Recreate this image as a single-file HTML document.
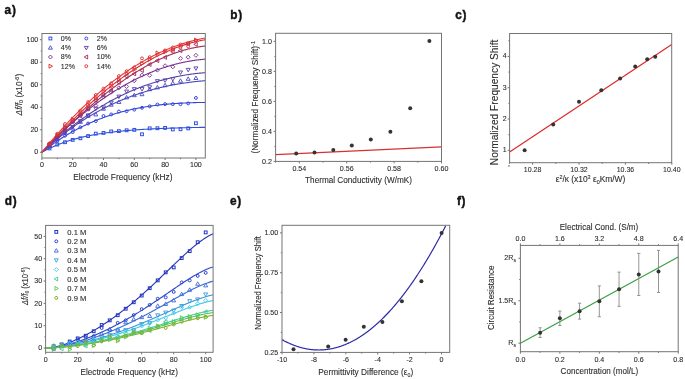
<!DOCTYPE html>
<html><head><meta charset="utf-8"><style>
html,body{margin:0;padding:0;background:#fff;}
svg{display:block;font-family:"Liberation Sans", sans-serif;filter:blur(0.3px);}
text{stroke:#2a2a2a;stroke-width:0.1px;paint-order:stroke;}
</style></head><body>
<svg width="685" height="379" viewBox="0 0 685 379">
<rect width="685" height="379" fill="#fff"/>
<polyline points="41.90,152.30 42.67,151.87 43.44,151.44 44.21,151.03 44.98,150.62 45.75,150.21 46.52,149.82 47.29,149.43 48.06,149.04 48.83,148.67 49.60,148.30 50.37,147.93 51.14,147.58 51.91,147.22 52.68,146.88 53.45,146.54 54.22,146.20 54.99,145.87 55.76,145.55 56.53,145.23 57.30,144.92 58.07,144.61 58.84,144.31 59.61,144.01 60.38,143.72 61.15,143.43 61.92,143.15 62.69,142.87 63.46,142.60 64.23,142.33 65.00,142.07 65.77,141.81 66.54,141.55 67.31,141.30 68.08,141.06 68.85,140.81 69.62,140.57 70.39,140.34 71.16,140.11 71.93,139.88 72.70,139.66 73.47,139.44 74.24,139.23 75.01,139.01 75.78,138.81 76.55,138.60 77.32,138.40 78.09,138.20 78.86,138.01 79.63,137.82 80.40,137.63 81.17,137.44 81.94,137.26 82.71,137.08 83.48,136.91 84.25,136.73 85.02,136.56 85.79,136.40 86.56,136.23 87.33,136.07 88.10,135.91 88.87,135.76 89.64,135.60 90.41,135.45 91.18,135.30 91.95,135.16 92.72,135.02 93.49,134.87 94.26,134.74 95.03,134.60 95.80,134.47 96.57,134.33 97.34,134.20 98.11,134.08 98.88,133.95 99.65,133.83 100.42,133.71 101.19,133.59 101.96,133.47 102.73,133.36 103.50,133.24 104.27,133.13 105.04,133.02 105.81,132.92 106.58,132.81 107.35,132.71 108.12,132.60 108.89,132.50 109.66,132.40 110.43,132.31 111.20,132.21 111.97,132.12 112.74,132.03 113.51,131.93 114.28,131.85 115.05,131.76 115.82,131.67 116.59,131.59 117.36,131.50 118.13,131.42 118.90,131.34 119.67,131.26 120.44,131.18 121.21,131.11 121.98,131.03 122.75,130.96 123.52,130.89 124.29,130.81 125.06,130.74 125.83,130.67 126.60,130.61 127.37,130.54 128.14,130.47 128.91,130.41 129.68,130.35 130.45,130.28 131.22,130.22 131.99,130.16 132.76,130.10 133.53,130.04 134.30,129.99 135.07,129.93 135.84,129.87 136.61,129.82 137.38,129.77 138.15,129.71 138.92,129.66 139.69,129.61 140.46,129.56 141.23,129.51 142.00,129.46 142.77,129.41 143.54,129.37 144.31,129.32 145.08,129.28 145.85,129.23 146.62,129.19 147.39,129.15 148.16,129.10 148.93,129.06 149.70,129.02 150.47,128.98 151.24,128.94 152.01,128.90 152.78,128.86 153.55,128.83 154.32,128.79 155.09,128.75 155.86,128.72 156.63,128.68 157.40,128.65 158.17,128.61 158.94,128.58 159.71,128.55 160.48,128.51 161.25,128.48 162.02,128.45 162.79,128.42 163.56,128.39 164.33,128.36 165.10,128.33 165.87,128.30 166.64,128.28 167.41,128.25 168.18,128.22 168.95,128.19 169.72,128.17 170.49,128.14 171.26,128.12 172.03,128.09 172.80,128.07 173.57,128.04 174.34,128.02 175.11,128.00 175.88,127.97 176.65,127.95 177.42,127.93 178.19,127.91 178.96,127.88 179.73,127.86 180.50,127.84 181.27,127.82 182.04,127.80 182.81,127.78 183.58,127.76 184.35,127.74 185.12,127.72 185.89,127.71 186.66,127.69 187.43,127.67 188.20,127.65 188.97,127.64 189.74,127.62 190.51,127.60 191.28,127.59 192.05,127.57 192.82,127.55 193.59,127.54 194.36,127.52 195.13,127.51 195.90,127.49 196.67,127.48 197.44,127.46 198.21,127.45 198.98,127.44 199.75,127.42 200.52,127.41 201.29,127.40 202.06,127.38 202.83,127.37 203.60,127.36 204.37,127.35 205.14,127.33" fill="none" stroke="#3050e0" stroke-width="1.1" stroke-linejoin="round"/>
<polyline points="41.90,152.30 42.67,151.69 43.44,151.09 44.21,150.49 44.98,149.89 45.75,149.31 46.52,148.72 47.29,148.14 48.06,147.57 48.83,147.00 49.60,146.43 50.37,145.87 51.14,145.32 51.91,144.77 52.68,144.22 53.45,143.68 54.22,143.14 54.99,142.61 55.76,142.08 56.53,141.56 57.30,141.04 58.07,140.53 58.84,140.02 59.61,139.51 60.38,139.01 61.15,138.52 61.92,138.03 62.69,137.54 63.46,137.06 64.23,136.58 65.00,136.11 65.77,135.64 66.54,135.17 67.31,134.71 68.08,134.26 68.85,133.80 69.62,133.36 70.39,132.91 71.16,132.47 71.93,132.04 72.70,131.61 73.47,131.18 74.24,130.76 75.01,130.34 75.78,129.93 76.55,129.52 77.32,129.11 78.09,128.71 78.86,128.31 79.63,127.92 80.40,127.53 81.17,127.14 81.94,126.76 82.71,126.38 83.48,126.01 84.25,125.64 85.02,125.27 85.79,124.91 86.56,124.55 87.33,124.19 88.10,123.84 88.87,123.49 89.64,123.15 90.41,122.81 91.18,122.47 91.95,122.14 92.72,121.81 93.49,121.49 94.26,121.16 95.03,120.85 95.80,120.53 96.57,120.22 97.34,119.91 98.11,119.61 98.88,119.31 99.65,119.01 100.42,118.72 101.19,118.43 101.96,118.14 102.73,117.86 103.50,117.58 104.27,117.30 105.04,117.03 105.81,116.76 106.58,116.49 107.35,116.23 108.12,115.97 108.89,115.71 109.66,115.46 110.43,115.21 111.20,114.96 111.97,114.72 112.74,114.48 113.51,114.24 114.28,114.00 115.05,113.77 115.82,113.54 116.59,113.32 117.36,113.10 118.13,112.88 118.90,112.66 119.67,112.45 120.44,112.23 121.21,112.03 121.98,111.82 122.75,111.62 123.52,111.42 124.29,111.23 125.06,111.03 125.83,110.84 126.60,110.65 127.37,110.47 128.14,110.29 128.91,110.11 129.68,109.93 130.45,109.76 131.22,109.58 131.99,109.41 132.76,109.25 133.53,109.08 134.30,108.92 135.07,108.76 135.84,108.61 136.61,108.45 137.38,108.30 138.15,108.16 138.92,108.01 139.69,107.87 140.46,107.72 141.23,107.59 142.00,107.45 142.77,107.31 143.54,107.18 144.31,107.05 145.08,106.93 145.85,106.80 146.62,106.68 147.39,106.56 148.16,106.44 148.93,106.32 149.70,106.21 150.47,106.10 151.24,105.99 152.01,105.88 152.78,105.78 153.55,105.67 154.32,105.57 155.09,105.47 155.86,105.37 156.63,105.28 157.40,105.19 158.17,105.09 158.94,105.01 159.71,104.92 160.48,104.83 161.25,104.75 162.02,104.67 162.79,104.59 163.56,104.51 164.33,104.43 165.10,104.36 165.87,104.28 166.64,104.21 167.41,104.14 168.18,104.08 168.95,104.01 169.72,103.95 170.49,103.88 171.26,103.82 172.03,103.76 172.80,103.70 173.57,103.65 174.34,103.59 175.11,103.54 175.88,103.49 176.65,103.44 177.42,103.39 178.19,103.34 178.96,103.29 179.73,103.25 180.50,103.21 181.27,103.16 182.04,103.12 182.81,103.08 183.58,103.05 184.35,103.01 185.12,102.97 185.89,102.94 186.66,102.91 187.43,102.87 188.20,102.84 188.97,102.81 189.74,102.78 190.51,102.76 191.28,102.73 192.05,102.70 192.82,102.68 193.59,102.66 194.36,102.64 195.13,102.61 195.90,102.59 196.67,102.57 197.44,102.56 198.21,102.54 198.98,102.52 199.75,102.51 200.52,102.49 201.29,102.48 202.06,102.46 202.83,102.45 203.60,102.44 204.37,102.43 205.14,102.42" fill="none" stroke="#3344dd" stroke-width="1.1" stroke-linejoin="round"/>
<polyline points="41.90,152.30 42.67,151.59 43.44,150.88 44.21,150.18 44.98,149.49 45.75,148.80 46.52,148.11 47.29,147.42 48.06,146.75 48.83,146.07 49.60,145.40 50.37,144.74 51.14,144.07 51.91,143.42 52.68,142.76 53.45,142.12 54.22,141.47 54.99,140.83 55.76,140.20 56.53,139.56 57.30,138.94 58.07,138.31 58.84,137.69 59.61,137.08 60.38,136.47 61.15,135.86 61.92,135.26 62.69,134.66 63.46,134.07 64.23,133.48 65.00,132.89 65.77,132.31 66.54,131.73 67.31,131.16 68.08,130.59 68.85,130.02 69.62,129.46 70.39,128.90 71.16,128.35 71.93,127.80 72.70,127.26 73.47,126.71 74.24,126.18 75.01,125.64 75.78,125.11 76.55,124.59 77.32,124.06 78.09,123.55 78.86,123.03 79.63,122.52 80.40,122.01 81.17,121.51 81.94,121.01 82.71,120.51 83.48,120.02 84.25,119.53 85.02,119.05 85.79,118.57 86.56,118.09 87.33,117.62 88.10,117.15 88.87,116.68 89.64,116.22 90.41,115.76 91.18,115.31 91.95,114.86 92.72,114.41 93.49,113.97 94.26,113.53 95.03,113.09 95.80,112.66 96.57,112.23 97.34,111.80 98.11,111.38 98.88,110.96 99.65,110.54 100.42,110.13 101.19,109.72 101.96,109.31 102.73,108.91 103.50,108.51 104.27,108.12 105.04,107.73 105.81,107.34 106.58,106.95 107.35,106.57 108.12,106.19 108.89,105.82 109.66,105.45 110.43,105.08 111.20,104.71 111.97,104.35 112.74,103.99 113.51,103.64 114.28,103.28 115.05,102.94 115.82,102.59 116.59,102.25 117.36,101.91 118.13,101.57 118.90,101.24 119.67,100.91 120.44,100.58 121.21,100.26 121.98,99.94 122.75,99.62 123.52,99.31 124.29,98.99 125.06,98.69 125.83,98.38 126.60,98.08 127.37,97.78 128.14,97.48 128.91,97.19 129.68,96.90 130.45,96.61 131.22,96.33 131.99,96.05 132.76,95.77 133.53,95.49 134.30,95.22 135.07,94.95 135.84,94.68 136.61,94.42 137.38,94.16 138.15,93.90 138.92,93.64 139.69,93.39 140.46,93.14 141.23,92.89 142.00,92.65 142.77,92.41 143.54,92.17 144.31,91.93 145.08,91.70 145.85,91.46 146.62,91.24 147.39,91.01 148.16,90.79 148.93,90.57 149.70,90.35 150.47,90.13 151.24,89.92 152.01,89.71 152.78,89.50 153.55,89.30 154.32,89.10 155.09,88.90 155.86,88.70 156.63,88.50 157.40,88.31 158.17,88.12 158.94,87.93 159.71,87.75 160.48,87.57 161.25,87.38 162.02,87.21 162.79,87.03 163.56,86.86 164.33,86.69 165.10,86.52 165.87,86.35 166.64,86.19 167.41,86.03 168.18,85.87 168.95,85.71 169.72,85.56 170.49,85.41 171.26,85.26 172.03,85.11 172.80,84.96 173.57,84.82 174.34,84.68 175.11,84.54 175.88,84.40 176.65,84.27 177.42,84.13 178.19,84.00 178.96,83.88 179.73,83.75 180.50,83.63 181.27,83.50 182.04,83.38 182.81,83.27 183.58,83.15 184.35,83.04 185.12,82.92 185.89,82.81 186.66,82.71 187.43,82.60 188.20,82.50 188.97,82.39 189.74,82.29 190.51,82.20 191.28,82.10 192.05,82.00 192.82,81.91 193.59,81.82 194.36,81.73 195.13,81.64 195.90,81.56 196.67,81.48 197.44,81.39 198.21,81.31 198.98,81.24 199.75,81.16 200.52,81.09 201.29,81.01 202.06,80.94 202.83,80.87 203.60,80.80 204.37,80.74 205.14,80.67" fill="none" stroke="#4848c0" stroke-width="1.1" stroke-linejoin="round"/>
<polyline points="41.90,152.30 42.67,151.57 43.44,150.84 44.21,150.11 44.98,149.39 45.75,148.67 46.52,147.95 47.29,147.24 48.06,146.53 48.83,145.83 49.60,145.13 50.37,144.43 51.14,143.74 51.91,143.05 52.68,142.37 53.45,141.68 54.22,141.01 54.99,140.33 55.76,139.66 56.53,138.99 57.30,138.33 58.07,137.67 58.84,137.02 59.61,136.36 60.38,135.72 61.15,135.07 61.92,134.43 62.69,133.79 63.46,133.16 64.23,132.53 65.00,131.90 65.77,131.28 66.54,130.66 67.31,130.05 68.08,129.43 68.85,128.83 69.62,128.22 70.39,127.62 71.16,127.02 71.93,126.43 72.70,125.84 73.47,125.25 74.24,124.67 75.01,124.09 75.78,123.51 76.55,122.94 77.32,122.37 78.09,121.81 78.86,121.24 79.63,120.69 80.40,120.13 81.17,119.58 81.94,119.03 82.71,118.49 83.48,117.95 84.25,117.41 85.02,116.88 85.79,116.35 86.56,115.82 87.33,115.30 88.10,114.78 88.87,114.26 89.64,113.75 90.41,113.24 91.18,112.73 91.95,112.23 92.72,111.73 93.49,111.23 94.26,110.74 95.03,110.25 95.80,109.77 96.57,109.28 97.34,108.80 98.11,108.33 98.88,107.86 99.65,107.39 100.42,106.92 101.19,106.46 101.96,106.00 102.73,105.55 103.50,105.10 104.27,104.65 105.04,104.20 105.81,103.76 106.58,103.32 107.35,102.89 108.12,102.46 108.89,102.03 109.66,101.60 110.43,101.18 111.20,100.76 111.97,100.35 112.74,99.93 113.51,99.53 114.28,99.12 115.05,98.72 115.82,98.32 116.59,97.92 117.36,97.53 118.13,97.14 118.90,96.76 119.67,96.37 120.44,95.99 121.21,95.62 121.98,95.25 122.75,94.88 123.52,94.51 124.29,94.15 125.06,93.79 125.83,93.43 126.60,93.08 127.37,92.72 128.14,92.38 128.91,92.03 129.68,91.69 130.45,91.35 131.22,91.02 131.99,90.69 132.76,90.36 133.53,90.03 134.30,89.71 135.07,89.39 135.84,89.08 136.61,88.76 137.38,88.45 138.15,88.15 138.92,87.84 139.69,87.54 140.46,87.25 141.23,86.95 142.00,86.66 142.77,86.37 143.54,86.09 144.31,85.80 145.08,85.53 145.85,85.25 146.62,84.98 147.39,84.71 148.16,84.44 148.93,84.18 149.70,83.91 150.47,83.66 151.24,83.40 152.01,83.15 152.78,82.90 153.55,82.66 154.32,82.41 155.09,82.17 155.86,81.94 156.63,81.70 157.40,81.47 158.17,81.24 158.94,81.02 159.71,80.80 160.48,80.58 161.25,80.36 162.02,80.15 162.79,79.94 163.56,79.73 164.33,79.52 165.10,79.32 165.87,79.12 166.64,78.93 167.41,78.73 168.18,78.54 168.95,78.36 169.72,78.17 170.49,77.99 171.26,77.81 172.03,77.64 172.80,77.46 173.57,77.29 174.34,77.12 175.11,76.96 175.88,76.80 176.65,76.64 177.42,76.48 178.19,76.33 178.96,76.18 179.73,76.03 180.50,75.89 181.27,75.74 182.04,75.60 182.81,75.47 183.58,75.33 184.35,75.20 185.12,75.08 185.89,74.95 186.66,74.83 187.43,74.71 188.20,74.59 188.97,74.47 189.74,74.36 190.51,74.25 191.28,74.15 192.05,74.04 192.82,73.94 193.59,73.84 194.36,73.75 195.13,73.65 195.90,73.56 196.67,73.48 197.44,73.39 198.21,73.31 198.98,73.23 199.75,73.15 200.52,73.08 201.29,73.01 202.06,72.94 202.83,72.87 203.60,72.81 204.37,72.75 205.14,72.69" fill="none" stroke="#5840a8" stroke-width="1.1" stroke-linejoin="round"/>
<polyline points="41.90,152.30 42.67,151.49 43.44,150.68 44.21,149.87 44.98,149.07 45.75,148.27 46.52,147.47 47.29,146.68 48.06,145.89 48.83,145.11 49.60,144.33 50.37,143.55 51.14,142.77 51.91,142.00 52.68,141.24 53.45,140.47 54.22,139.71 54.99,138.96 55.76,138.20 56.53,137.45 57.30,136.71 58.07,135.96 58.84,135.22 59.61,134.49 60.38,133.76 61.15,133.03 61.92,132.30 62.69,131.58 63.46,130.86 64.23,130.15 65.00,129.44 65.77,128.73 66.54,128.03 67.31,127.33 68.08,126.63 68.85,125.94 69.62,125.25 70.39,124.56 71.16,123.88 71.93,123.20 72.70,122.53 73.47,121.85 74.24,121.19 75.01,120.52 75.78,119.86 76.55,119.20 77.32,118.55 78.09,117.90 78.86,117.25 79.63,116.61 80.40,115.97 81.17,115.33 81.94,114.70 82.71,114.07 83.48,113.44 84.25,112.82 85.02,112.20 85.79,111.58 86.56,110.97 87.33,110.36 88.10,109.76 88.87,109.16 89.64,108.56 90.41,107.97 91.18,107.37 91.95,106.79 92.72,106.20 93.49,105.62 94.26,105.05 95.03,104.48 95.80,103.91 96.57,103.34 97.34,102.78 98.11,102.22 98.88,101.66 99.65,101.11 100.42,100.56 101.19,100.02 101.96,99.48 102.73,98.94 103.50,98.41 104.27,97.88 105.04,97.35 105.81,96.83 106.58,96.31 107.35,95.79 108.12,95.28 108.89,94.77 109.66,94.26 110.43,93.76 111.20,93.26 111.97,92.77 112.74,92.28 113.51,91.79 114.28,91.31 115.05,90.83 115.82,90.35 116.59,89.87 117.36,89.40 118.13,88.94 118.90,88.47 119.67,88.02 120.44,87.56 121.21,87.11 121.98,86.66 122.75,86.21 123.52,85.77 124.29,85.33 125.06,84.90 125.83,84.47 126.60,84.04 127.37,83.62 128.14,83.20 128.91,82.78 129.68,82.37 130.45,81.96 131.22,81.55 131.99,81.15 132.76,80.75 133.53,80.35 134.30,79.96 135.07,79.57 135.84,79.19 136.61,78.81 137.38,78.43 138.15,78.06 138.92,77.69 139.69,77.32 140.46,76.96 141.23,76.60 142.00,76.24 142.77,75.89 143.54,75.54 144.31,75.19 145.08,74.85 145.85,74.51 146.62,74.18 147.39,73.85 148.16,73.52 148.93,73.19 149.70,72.87 150.47,72.56 151.24,72.24 152.01,71.93 152.78,71.63 153.55,71.32 154.32,71.02 155.09,70.73 155.86,70.44 156.63,70.15 157.40,69.86 158.17,69.58 158.94,69.30 159.71,69.03 160.48,68.76 161.25,68.49 162.02,68.23 162.79,67.97 163.56,67.71 164.33,67.46 165.10,67.21 165.87,66.96 166.64,66.72 167.41,66.48 168.18,66.24 168.95,66.01 169.72,65.78 170.49,65.56 171.26,65.34 172.03,65.12 172.80,64.91 173.57,64.70 174.34,64.49 175.11,64.29 175.88,64.09 176.65,63.89 177.42,63.70 178.19,63.51 178.96,63.33 179.73,63.15 180.50,62.97 181.27,62.79 182.04,62.62 182.81,62.45 183.58,62.29 184.35,62.13 185.12,61.97 185.89,61.82 186.66,61.67 187.43,61.53 188.20,61.38 188.97,61.24 189.74,61.11 190.51,60.98 191.28,60.85 192.05,60.72 192.82,60.60 193.59,60.49 194.36,60.37 195.13,60.26 195.90,60.16 196.67,60.05 197.44,59.95 198.21,59.86 198.98,59.77 199.75,59.68 200.52,59.59 201.29,59.51 202.06,59.43 202.83,59.36 203.60,59.29 204.37,59.22 205.14,59.16" fill="none" stroke="#783090" stroke-width="1.1" stroke-linejoin="round"/>
<polyline points="41.90,152.30 42.67,151.51 43.44,150.72 44.21,149.93 44.98,149.15 45.75,148.36 46.52,147.58 47.29,146.80 48.06,146.02 48.83,145.25 49.60,144.47 50.37,143.70 51.14,142.92 51.91,142.15 52.68,141.38 53.45,140.62 54.22,139.85 54.99,139.09 55.76,138.33 56.53,137.57 57.30,136.81 58.07,136.05 58.84,135.30 59.61,134.54 60.38,133.79 61.15,133.04 61.92,132.30 62.69,131.55 63.46,130.81 64.23,130.07 65.00,129.33 65.77,128.59 66.54,127.86 67.31,127.13 68.08,126.40 68.85,125.67 69.62,124.94 70.39,124.22 71.16,123.50 71.93,122.78 72.70,122.06 73.47,121.34 74.24,120.63 75.01,119.92 75.78,119.21 76.55,118.50 77.32,117.80 78.09,117.10 78.86,116.40 79.63,115.70 80.40,115.01 81.17,114.31 81.94,113.62 82.71,112.94 83.48,112.25 84.25,111.57 85.02,110.89 85.79,110.21 86.56,109.53 87.33,108.86 88.10,108.19 88.87,107.52 89.64,106.86 90.41,106.20 91.18,105.54 91.95,104.88 92.72,104.22 93.49,103.57 94.26,102.92 95.03,102.28 95.80,101.63 96.57,100.99 97.34,100.35 98.11,99.72 98.88,99.08 99.65,98.45 100.42,97.82 101.19,97.20 101.96,96.58 102.73,95.96 103.50,95.34 104.27,94.73 105.04,94.12 105.81,93.51 106.58,92.91 107.35,92.31 108.12,91.71 108.89,91.11 109.66,90.52 110.43,89.93 111.20,89.34 111.97,88.76 112.74,88.18 113.51,87.60 114.28,87.03 115.05,86.46 115.82,85.89 116.59,85.33 117.36,84.77 118.13,84.21 118.90,83.65 119.67,83.10 120.44,82.55 121.21,82.01 121.98,81.47 122.75,80.93 123.52,80.39 124.29,79.86 125.06,79.33 125.83,78.81 126.60,78.28 127.37,77.77 128.14,77.25 128.91,76.74 129.68,76.23 130.45,75.73 131.22,75.23 131.99,74.73 132.76,74.23 133.53,73.74 134.30,73.26 135.07,72.77 135.84,72.29 136.61,71.82 137.38,71.35 138.15,70.88 138.92,70.41 139.69,69.95 140.46,69.49 141.23,69.04 142.00,68.59 142.77,68.14 143.54,67.70 144.31,67.26 145.08,66.82 145.85,66.39 146.62,65.97 147.39,65.54 148.16,65.12 148.93,64.71 149.70,64.29 150.47,63.89 151.24,63.48 152.01,63.08 152.78,62.69 153.55,62.29 154.32,61.91 155.09,61.52 155.86,61.14 156.63,60.77 157.40,60.39 158.17,60.03 158.94,59.66 159.71,59.30 160.48,58.95 161.25,58.60 162.02,58.25 162.79,57.91 163.56,57.57 164.33,57.23 165.10,56.90 165.87,56.58 166.64,56.26 167.41,55.94 168.18,55.63 168.95,55.32 169.72,55.01 170.49,54.71 171.26,54.42 172.03,54.13 172.80,53.84 173.57,53.56 174.34,53.28 175.11,53.01 175.88,52.74 176.65,52.47 177.42,52.21 178.19,51.96 178.96,51.71 179.73,51.46 180.50,51.22 181.27,50.98 182.04,50.75 182.81,50.52 183.58,50.30 184.35,50.08 185.12,49.87 185.89,49.66 186.66,49.46 187.43,49.26 188.20,49.06 188.97,48.87 189.74,48.69 190.51,48.51 191.28,48.33 192.05,48.16 192.82,48.00 193.59,47.84 194.36,47.68 195.13,47.53 195.90,47.38 196.67,47.24 197.44,47.11 198.21,46.98 198.98,46.85 199.75,46.73 200.52,46.61 201.29,46.50 202.06,46.40 202.83,46.30 203.60,46.20 204.37,46.11 205.14,46.02" fill="none" stroke="#a02c58" stroke-width="1.1" stroke-linejoin="round"/>
<polyline points="41.90,152.30 42.67,151.45 43.44,150.59 44.21,149.74 44.98,148.89 45.75,148.05 46.52,147.21 47.29,146.37 48.06,145.53 48.83,144.69 49.60,143.86 50.37,143.03 51.14,142.20 51.91,141.37 52.68,140.55 53.45,139.73 54.22,138.91 54.99,138.10 55.76,137.28 56.53,136.47 57.30,135.66 58.07,134.86 58.84,134.05 59.61,133.25 60.38,132.46 61.15,131.66 61.92,130.87 62.69,130.08 63.46,129.29 64.23,128.50 65.00,127.72 65.77,126.94 66.54,126.16 67.31,125.39 68.08,124.62 68.85,123.85 69.62,123.08 70.39,122.32 71.16,121.56 71.93,120.80 72.70,120.05 73.47,119.29 74.24,118.54 75.01,117.80 75.78,117.05 76.55,116.31 77.32,115.57 78.09,114.84 78.86,114.10 79.63,113.37 80.40,112.64 81.17,111.92 81.94,111.20 82.71,110.48 83.48,109.76 84.25,109.05 85.02,108.34 85.79,107.63 86.56,106.93 87.33,106.23 88.10,105.53 88.87,104.83 89.64,104.14 90.41,103.45 91.18,102.77 91.95,102.08 92.72,101.40 93.49,100.72 94.26,100.05 95.03,99.38 95.80,98.71 96.57,98.05 97.34,97.38 98.11,96.72 98.88,96.07 99.65,95.42 100.42,94.77 101.19,94.12 101.96,93.48 102.73,92.83 103.50,92.20 104.27,91.56 105.04,90.93 105.81,90.30 106.58,89.68 107.35,89.06 108.12,88.44 108.89,87.83 109.66,87.21 110.43,86.61 111.20,86.00 111.97,85.40 112.74,84.80 113.51,84.20 114.28,83.61 115.05,83.02 115.82,82.44 116.59,81.86 117.36,81.28 118.13,80.70 118.90,80.13 119.67,79.56 120.44,79.00 121.21,78.43 121.98,77.88 122.75,77.32 123.52,76.77 124.29,76.22 125.06,75.68 125.83,75.13 126.60,74.60 127.37,74.06 128.14,73.53 128.91,73.00 129.68,72.48 130.45,71.96 131.22,71.44 131.99,70.93 132.76,70.42 133.53,69.91 134.30,69.41 135.07,68.91 135.84,68.42 136.61,67.92 137.38,67.43 138.15,66.95 138.92,66.47 139.69,65.99 140.46,65.52 141.23,65.05 142.00,64.58 142.77,64.12 143.54,63.66 144.31,63.20 145.08,62.75 145.85,62.30 146.62,61.86 147.39,61.42 148.16,60.98 148.93,60.55 149.70,60.12 150.47,59.69 151.24,59.27 152.01,58.85 152.78,58.44 153.55,58.03 154.32,57.62 155.09,57.22 155.86,56.82 156.63,56.42 157.40,56.03 158.17,55.65 158.94,55.26 159.71,54.88 160.48,54.51 161.25,54.14 162.02,53.77 162.79,53.40 163.56,53.04 164.33,52.69 165.10,52.34 165.87,51.99 166.64,51.64 167.41,51.30 168.18,50.97 168.95,50.64 169.72,50.31 170.49,49.98 171.26,49.67 172.03,49.35 172.80,49.04 173.57,48.73 174.34,48.43 175.11,48.13 175.88,47.83 176.65,47.54 177.42,47.25 178.19,46.97 178.96,46.69 179.73,46.42 180.50,46.15 181.27,45.88 182.04,45.62 182.81,45.36 183.58,45.11 184.35,44.86 185.12,44.61 185.89,44.37 186.66,44.14 187.43,43.90 188.20,43.67 188.97,43.45 189.74,43.23 190.51,43.02 191.28,42.81 192.05,42.60 192.82,42.40 193.59,42.20 194.36,42.01 195.13,41.82 195.90,41.63 196.67,41.45 197.44,41.28 198.21,41.10 198.98,40.94 199.75,40.77 200.52,40.62 201.29,40.46 202.06,40.31 202.83,40.17 203.60,40.03 204.37,39.89 205.14,39.76" fill="none" stroke="#d82c30" stroke-width="1.1" stroke-linejoin="round"/>
<polyline points="41.90,152.30 42.67,151.35 43.44,150.41 44.21,149.47 44.98,148.53 45.75,147.60 46.52,146.67 47.29,145.75 48.06,144.82 48.83,143.91 49.60,143.00 50.37,142.09 51.14,141.18 51.91,140.28 52.68,139.39 53.45,138.49 54.22,137.60 54.99,136.72 55.76,135.84 56.53,134.96 57.30,134.09 58.07,133.22 58.84,132.36 59.61,131.50 60.38,130.64 61.15,129.79 61.92,128.94 62.69,128.09 63.46,127.25 64.23,126.41 65.00,125.58 65.77,124.75 66.54,123.93 67.31,123.10 68.08,122.29 68.85,121.47 69.62,120.66 70.39,119.86 71.16,119.06 71.93,118.26 72.70,117.47 73.47,116.68 74.24,115.89 75.01,115.11 75.78,114.33 76.55,113.56 77.32,112.79 78.09,112.02 78.86,111.26 79.63,110.50 80.40,109.74 81.17,108.99 81.94,108.25 82.71,107.50 83.48,106.77 84.25,106.03 85.02,105.30 85.79,104.57 86.56,103.85 87.33,103.13 88.10,102.42 88.87,101.70 89.64,101.00 90.41,100.29 91.18,99.59 91.95,98.90 92.72,98.20 93.49,97.52 94.26,96.83 95.03,96.15 95.80,95.48 96.57,94.80 97.34,94.13 98.11,93.47 98.88,92.81 99.65,92.15 100.42,91.50 101.19,90.85 101.96,90.20 102.73,89.56 103.50,88.92 104.27,88.29 105.04,87.66 105.81,87.03 106.58,86.41 107.35,85.79 108.12,85.18 108.89,84.57 109.66,83.96 110.43,83.36 111.20,82.76 111.97,82.16 112.74,81.57 113.51,80.99 114.28,80.40 115.05,79.82 115.82,79.25 116.59,78.67 117.36,78.11 118.13,77.54 118.90,76.98 119.67,76.42 120.44,75.87 121.21,75.32 121.98,74.78 122.75,74.23 123.52,73.70 124.29,73.16 125.06,72.63 125.83,72.11 126.60,71.58 127.37,71.06 128.14,70.55 128.91,70.04 129.68,69.53 130.45,69.03 131.22,68.53 131.99,68.03 132.76,67.54 133.53,67.05 134.30,66.57 135.07,66.09 135.84,65.61 136.61,65.14 137.38,64.67 138.15,64.20 138.92,63.74 139.69,63.28 140.46,62.83 141.23,62.38 142.00,61.93 142.77,61.49 143.54,61.05 144.31,60.62 145.08,60.18 145.85,59.76 146.62,59.33 147.39,58.91 148.16,58.50 148.93,58.08 149.70,57.68 150.47,57.27 151.24,56.87 152.01,56.47 152.78,56.08 153.55,55.69 154.32,55.30 155.09,54.92 155.86,54.54 156.63,54.17 157.40,53.79 158.17,53.43 158.94,53.06 159.71,52.70 160.48,52.35 161.25,51.99 162.02,51.65 162.79,51.30 163.56,50.96 164.33,50.62 165.10,50.29 165.87,49.96 166.64,49.63 167.41,49.31 168.18,48.99 168.95,48.67 169.72,48.36 170.49,48.06 171.26,47.75 172.03,47.45 172.80,47.15 173.57,46.86 174.34,46.57 175.11,46.29 175.88,46.01 176.65,45.73 177.42,45.45 178.19,45.18 178.96,44.92 179.73,44.65 180.50,44.39 181.27,44.14 182.04,43.88 182.81,43.64 183.58,43.39 184.35,43.15 185.12,42.91 185.89,42.68 186.66,42.45 187.43,42.22 188.20,42.00 188.97,41.78 189.74,41.57 190.51,41.35 191.28,41.15 192.05,40.94 192.82,40.74 193.59,40.55 194.36,40.35 195.13,40.16 195.90,39.98 196.67,39.79 197.44,39.62 198.21,39.44 198.98,39.27 199.75,39.10 200.52,38.94 201.29,38.78 202.06,38.62 202.83,38.47 203.60,38.32 204.37,38.17 205.14,38.03" fill="none" stroke="#e83838" stroke-width="1.1" stroke-linejoin="round"/>
<rect x="48.20" y="147.05" width="2.80" height="2.80" fill="none" stroke="#3050e0" stroke-width="1.0"/>
<rect x="55.90" y="143.19" width="2.80" height="2.80" fill="none" stroke="#3050e0" stroke-width="1.0"/>
<rect x="63.60" y="140.82" width="2.80" height="2.80" fill="none" stroke="#3050e0" stroke-width="1.0"/>
<rect x="71.30" y="138.48" width="2.80" height="2.80" fill="none" stroke="#3050e0" stroke-width="1.0"/>
<rect x="79.00" y="136.89" width="2.80" height="2.80" fill="none" stroke="#3050e0" stroke-width="1.0"/>
<rect x="86.70" y="134.67" width="2.80" height="2.80" fill="none" stroke="#3050e0" stroke-width="1.0"/>
<rect x="94.40" y="132.24" width="2.80" height="2.80" fill="none" stroke="#3050e0" stroke-width="1.0"/>
<rect x="102.10" y="131.52" width="2.80" height="2.80" fill="none" stroke="#3050e0" stroke-width="1.0"/>
<rect x="109.80" y="130.02" width="2.80" height="2.80" fill="none" stroke="#3050e0" stroke-width="1.0"/>
<rect x="117.50" y="129.75" width="2.80" height="2.80" fill="none" stroke="#3050e0" stroke-width="1.0"/>
<rect x="125.20" y="128.90" width="2.80" height="2.80" fill="none" stroke="#3050e0" stroke-width="1.0"/>
<rect x="132.90" y="128.44" width="2.80" height="2.80" fill="none" stroke="#3050e0" stroke-width="1.0"/>
<rect x="140.60" y="132.88" width="2.80" height="2.80" fill="none" stroke="#3050e0" stroke-width="1.0"/>
<rect x="148.30" y="126.94" width="2.80" height="2.80" fill="none" stroke="#3050e0" stroke-width="1.0"/>
<rect x="156.00" y="126.84" width="2.80" height="2.80" fill="none" stroke="#3050e0" stroke-width="1.0"/>
<rect x="163.70" y="126.53" width="2.80" height="2.80" fill="none" stroke="#3050e0" stroke-width="1.0"/>
<rect x="171.40" y="128.03" width="2.80" height="2.80" fill="none" stroke="#3050e0" stroke-width="1.0"/>
<rect x="179.10" y="127.85" width="2.80" height="2.80" fill="none" stroke="#3050e0" stroke-width="1.0"/>
<rect x="186.80" y="126.97" width="2.80" height="2.80" fill="none" stroke="#3050e0" stroke-width="1.0"/>
<rect x="194.50" y="121.85" width="2.80" height="2.80" fill="none" stroke="#3050e0" stroke-width="1.0"/>
<circle cx="49.60" cy="146.24" r="1.45" fill="none" stroke="#3344dd" stroke-width="1.0"/>
<circle cx="57.30" cy="141.07" r="1.45" fill="none" stroke="#3344dd" stroke-width="1.0"/>
<circle cx="65.00" cy="135.73" r="1.45" fill="none" stroke="#3344dd" stroke-width="1.0"/>
<circle cx="72.70" cy="132.10" r="1.45" fill="none" stroke="#3344dd" stroke-width="1.0"/>
<circle cx="80.40" cy="127.28" r="1.45" fill="none" stroke="#3344dd" stroke-width="1.0"/>
<circle cx="88.10" cy="123.51" r="1.45" fill="none" stroke="#3344dd" stroke-width="1.0"/>
<circle cx="95.80" cy="121.11" r="1.45" fill="none" stroke="#3344dd" stroke-width="1.0"/>
<circle cx="103.50" cy="116.01" r="1.45" fill="none" stroke="#3344dd" stroke-width="1.0"/>
<circle cx="111.20" cy="114.44" r="1.45" fill="none" stroke="#3344dd" stroke-width="1.0"/>
<circle cx="118.90" cy="111.51" r="1.45" fill="none" stroke="#3344dd" stroke-width="1.0"/>
<circle cx="126.60" cy="111.26" r="1.45" fill="none" stroke="#3344dd" stroke-width="1.0"/>
<circle cx="134.30" cy="109.66" r="1.45" fill="none" stroke="#3344dd" stroke-width="1.0"/>
<circle cx="142.00" cy="107.80" r="1.45" fill="none" stroke="#3344dd" stroke-width="1.0"/>
<circle cx="149.70" cy="106.32" r="1.45" fill="none" stroke="#3344dd" stroke-width="1.0"/>
<circle cx="157.40" cy="104.53" r="1.45" fill="none" stroke="#3344dd" stroke-width="1.0"/>
<circle cx="165.10" cy="104.10" r="1.45" fill="none" stroke="#3344dd" stroke-width="1.0"/>
<circle cx="172.80" cy="104.17" r="1.45" fill="none" stroke="#3344dd" stroke-width="1.0"/>
<circle cx="180.50" cy="104.21" r="1.45" fill="none" stroke="#3344dd" stroke-width="1.0"/>
<circle cx="188.20" cy="103.39" r="1.45" fill="none" stroke="#3344dd" stroke-width="1.0"/>
<circle cx="195.90" cy="97.92" r="1.45" fill="none" stroke="#3344dd" stroke-width="1.0"/>
<polygon points="49.60,143.81 51.59,147.28 47.61,147.28" fill="none" stroke="#4848c0" stroke-width="0.9" stroke-linejoin="miter"/>
<polygon points="57.30,136.67 59.29,140.13 55.30,140.13" fill="none" stroke="#4848c0" stroke-width="0.9" stroke-linejoin="miter"/>
<polygon points="65.00,130.47 67.00,133.93 63.01,133.93" fill="none" stroke="#4848c0" stroke-width="0.9" stroke-linejoin="miter"/>
<polygon points="72.70,126.37 74.70,129.83 70.70,129.83" fill="none" stroke="#4848c0" stroke-width="0.9" stroke-linejoin="miter"/>
<polygon points="80.40,119.87 82.40,123.34 78.41,123.34" fill="none" stroke="#4848c0" stroke-width="0.9" stroke-linejoin="miter"/>
<polygon points="88.10,113.86 90.09,117.32 86.10,117.32" fill="none" stroke="#4848c0" stroke-width="0.9" stroke-linejoin="miter"/>
<polygon points="95.80,112.49 97.80,115.95 93.80,115.95" fill="none" stroke="#4848c0" stroke-width="0.9" stroke-linejoin="miter"/>
<polygon points="103.50,106.74 105.50,110.20 101.50,110.20" fill="none" stroke="#4848c0" stroke-width="0.9" stroke-linejoin="miter"/>
<polygon points="111.20,102.72 113.19,106.19 109.20,106.19" fill="none" stroke="#4848c0" stroke-width="0.9" stroke-linejoin="miter"/>
<polygon points="118.90,100.02 120.90,103.48 116.91,103.48" fill="none" stroke="#4848c0" stroke-width="0.9" stroke-linejoin="miter"/>
<polygon points="126.60,95.43 128.59,98.89 124.60,98.89" fill="none" stroke="#4848c0" stroke-width="0.9" stroke-linejoin="miter"/>
<polygon points="134.30,93.19 136.30,96.66 132.31,96.66" fill="none" stroke="#4848c0" stroke-width="0.9" stroke-linejoin="miter"/>
<polygon points="142.00,92.25 144.00,95.71 140.00,95.71" fill="none" stroke="#4848c0" stroke-width="0.9" stroke-linejoin="miter"/>
<polygon points="149.70,87.27 151.69,90.73 147.70,90.73" fill="none" stroke="#4848c0" stroke-width="0.9" stroke-linejoin="miter"/>
<polygon points="157.40,85.41 159.40,88.87 155.41,88.87" fill="none" stroke="#4848c0" stroke-width="0.9" stroke-linejoin="miter"/>
<polygon points="165.10,83.26 167.09,86.73 163.10,86.73" fill="none" stroke="#4848c0" stroke-width="0.9" stroke-linejoin="miter"/>
<polygon points="172.80,81.08 174.80,84.55 170.81,84.55" fill="none" stroke="#4848c0" stroke-width="0.9" stroke-linejoin="miter"/>
<polygon points="180.50,78.82 182.50,82.29 178.50,82.29" fill="none" stroke="#4848c0" stroke-width="0.9" stroke-linejoin="miter"/>
<polygon points="188.20,76.87 190.20,80.33 186.21,80.33" fill="none" stroke="#4848c0" stroke-width="0.9" stroke-linejoin="miter"/>
<polygon points="195.90,76.04 197.90,79.51 193.91,79.51" fill="none" stroke="#4848c0" stroke-width="0.9" stroke-linejoin="miter"/>
<polygon points="49.60,146.84 51.59,143.37 47.61,143.37" fill="none" stroke="#5840a8" stroke-width="0.9" stroke-linejoin="miter"/>
<polygon points="57.30,140.86 59.29,137.40 55.30,137.40" fill="none" stroke="#5840a8" stroke-width="0.9" stroke-linejoin="miter"/>
<polygon points="65.00,134.35 67.00,130.89 63.01,130.89" fill="none" stroke="#5840a8" stroke-width="0.9" stroke-linejoin="miter"/>
<polygon points="72.70,128.99 74.70,125.52 70.70,125.52" fill="none" stroke="#5840a8" stroke-width="0.9" stroke-linejoin="miter"/>
<polygon points="80.40,123.09 82.40,119.62 78.41,119.62" fill="none" stroke="#5840a8" stroke-width="0.9" stroke-linejoin="miter"/>
<polygon points="88.10,117.37 90.09,113.91 86.10,113.91" fill="none" stroke="#5840a8" stroke-width="0.9" stroke-linejoin="miter"/>
<polygon points="95.80,110.59 97.80,107.13 93.80,107.13" fill="none" stroke="#5840a8" stroke-width="0.9" stroke-linejoin="miter"/>
<polygon points="103.50,109.30 105.50,105.83 101.50,105.83" fill="none" stroke="#5840a8" stroke-width="0.9" stroke-linejoin="miter"/>
<polygon points="111.20,104.43 113.19,100.97 109.20,100.97" fill="none" stroke="#5840a8" stroke-width="0.9" stroke-linejoin="miter"/>
<polygon points="118.90,98.59 120.90,95.12 116.91,95.12" fill="none" stroke="#5840a8" stroke-width="0.9" stroke-linejoin="miter"/>
<polygon points="126.60,93.51 128.59,90.04 124.60,90.04" fill="none" stroke="#5840a8" stroke-width="0.9" stroke-linejoin="miter"/>
<polygon points="134.30,91.12 136.30,87.66 132.31,87.66" fill="none" stroke="#5840a8" stroke-width="0.9" stroke-linejoin="miter"/>
<polygon points="142.00,91.08 144.00,87.61 140.00,87.61" fill="none" stroke="#5840a8" stroke-width="0.9" stroke-linejoin="miter"/>
<polygon points="149.70,89.15 151.69,85.69 147.70,85.69" fill="none" stroke="#5840a8" stroke-width="0.9" stroke-linejoin="miter"/>
<polygon points="157.40,83.12 159.40,79.65 155.41,79.65" fill="none" stroke="#5840a8" stroke-width="0.9" stroke-linejoin="miter"/>
<polygon points="165.10,82.37 167.09,78.91 163.10,78.91" fill="none" stroke="#5840a8" stroke-width="0.9" stroke-linejoin="miter"/>
<polygon points="172.80,81.03 174.80,77.57 170.81,77.57" fill="none" stroke="#5840a8" stroke-width="0.9" stroke-linejoin="miter"/>
<polygon points="180.50,74.44 182.50,70.97 178.50,70.97" fill="none" stroke="#5840a8" stroke-width="0.9" stroke-linejoin="miter"/>
<polygon points="188.20,71.83 190.20,68.37 186.21,68.37" fill="none" stroke="#5840a8" stroke-width="0.9" stroke-linejoin="miter"/>
<polygon points="195.90,70.39 197.90,66.92 193.91,66.92" fill="none" stroke="#5840a8" stroke-width="0.9" stroke-linejoin="miter"/>
<polygon points="49.60,142.17 51.60,144.17 49.60,146.17 47.60,144.17" fill="none" stroke="#783090" stroke-width="0.9" stroke-linejoin="miter"/>
<polygon points="57.30,134.39 59.30,136.39 57.30,138.39 55.30,136.39" fill="none" stroke="#783090" stroke-width="0.9" stroke-linejoin="miter"/>
<polygon points="65.00,126.18 67.00,128.18 65.00,130.18 63.00,128.18" fill="none" stroke="#783090" stroke-width="0.9" stroke-linejoin="miter"/>
<polygon points="72.70,119.99 74.70,121.99 72.70,123.99 70.70,121.99" fill="none" stroke="#783090" stroke-width="0.9" stroke-linejoin="miter"/>
<polygon points="80.40,113.48 82.40,115.48 80.40,117.48 78.40,115.48" fill="none" stroke="#783090" stroke-width="0.9" stroke-linejoin="miter"/>
<polygon points="88.10,107.22 90.10,109.22 88.10,111.22 86.10,109.22" fill="none" stroke="#783090" stroke-width="0.9" stroke-linejoin="miter"/>
<polygon points="95.80,103.55 97.80,105.55 95.80,107.55 93.80,105.55" fill="none" stroke="#783090" stroke-width="0.9" stroke-linejoin="miter"/>
<polygon points="103.50,95.00 105.50,97.00 103.50,99.00 101.50,97.00" fill="none" stroke="#783090" stroke-width="0.9" stroke-linejoin="miter"/>
<polygon points="111.20,90.16 113.20,92.16 111.20,94.16 109.20,92.16" fill="none" stroke="#783090" stroke-width="0.9" stroke-linejoin="miter"/>
<polygon points="118.90,85.84 120.90,87.84 118.90,89.84 116.90,87.84" fill="none" stroke="#783090" stroke-width="0.9" stroke-linejoin="miter"/>
<polygon points="126.60,84.50 128.60,86.50 126.60,88.50 124.60,86.50" fill="none" stroke="#783090" stroke-width="0.9" stroke-linejoin="miter"/>
<polygon points="134.30,78.78 136.30,80.78 134.30,82.78 132.30,80.78" fill="none" stroke="#783090" stroke-width="0.9" stroke-linejoin="miter"/>
<polygon points="142.00,73.12 144.00,75.12 142.00,77.12 140.00,75.12" fill="none" stroke="#783090" stroke-width="0.9" stroke-linejoin="miter"/>
<polygon points="149.70,73.33 151.70,75.33 149.70,77.33 147.70,75.33" fill="none" stroke="#783090" stroke-width="0.9" stroke-linejoin="miter"/>
<polygon points="157.40,68.12 159.40,70.12 157.40,72.12 155.40,70.12" fill="none" stroke="#783090" stroke-width="0.9" stroke-linejoin="miter"/>
<polygon points="165.10,63.77 167.10,65.77 165.10,67.77 163.10,65.77" fill="none" stroke="#783090" stroke-width="0.9" stroke-linejoin="miter"/>
<polygon points="172.80,64.79 174.80,66.79 172.80,68.79 170.80,66.79" fill="none" stroke="#783090" stroke-width="0.9" stroke-linejoin="miter"/>
<polygon points="180.50,56.37 182.50,58.37 180.50,60.37 178.50,58.37" fill="none" stroke="#783090" stroke-width="0.9" stroke-linejoin="miter"/>
<polygon points="188.20,55.19 190.20,57.19 188.20,59.19 186.20,57.19" fill="none" stroke="#783090" stroke-width="0.9" stroke-linejoin="miter"/>
<polygon points="195.90,53.31 197.90,55.31 195.90,57.31 193.90,55.31" fill="none" stroke="#783090" stroke-width="0.9" stroke-linejoin="miter"/>
<polygon points="47.50,144.26 50.97,142.27 50.97,146.26" fill="none" stroke="#a02c58" stroke-width="0.9" stroke-linejoin="miter"/>
<polygon points="55.20,136.34 58.66,134.35 58.66,138.34" fill="none" stroke="#a02c58" stroke-width="0.9" stroke-linejoin="miter"/>
<polygon points="62.90,129.24 66.36,127.24 66.36,131.23" fill="none" stroke="#a02c58" stroke-width="0.9" stroke-linejoin="miter"/>
<polygon points="70.60,121.07 74.06,119.07 74.06,123.06" fill="none" stroke="#a02c58" stroke-width="0.9" stroke-linejoin="miter"/>
<polygon points="78.30,115.62 81.77,113.63 81.77,117.62" fill="none" stroke="#a02c58" stroke-width="0.9" stroke-linejoin="miter"/>
<polygon points="86.00,108.61 89.46,106.61 89.46,110.60" fill="none" stroke="#a02c58" stroke-width="0.9" stroke-linejoin="miter"/>
<polygon points="93.70,100.52 97.16,98.52 97.16,102.51" fill="none" stroke="#a02c58" stroke-width="0.9" stroke-linejoin="miter"/>
<polygon points="101.40,95.31 104.86,93.32 104.86,97.31" fill="none" stroke="#a02c58" stroke-width="0.9" stroke-linejoin="miter"/>
<polygon points="109.10,90.39 112.56,88.40 112.56,92.39" fill="none" stroke="#a02c58" stroke-width="0.9" stroke-linejoin="miter"/>
<polygon points="116.80,82.47 120.27,80.48 120.27,84.47" fill="none" stroke="#a02c58" stroke-width="0.9" stroke-linejoin="miter"/>
<polygon points="124.50,76.37 127.96,74.38 127.96,78.37" fill="none" stroke="#a02c58" stroke-width="0.9" stroke-linejoin="miter"/>
<polygon points="132.20,73.86 135.67,71.86 135.67,75.85" fill="none" stroke="#a02c58" stroke-width="0.9" stroke-linejoin="miter"/>
<polygon points="139.90,70.52 143.37,68.53 143.37,72.52" fill="none" stroke="#a02c58" stroke-width="0.9" stroke-linejoin="miter"/>
<polygon points="147.60,64.49 151.06,62.49 151.06,66.48" fill="none" stroke="#a02c58" stroke-width="0.9" stroke-linejoin="miter"/>
<polygon points="155.30,60.61 158.77,58.62 158.77,62.61" fill="none" stroke="#a02c58" stroke-width="0.9" stroke-linejoin="miter"/>
<polygon points="163.00,57.36 166.47,55.36 166.47,59.35" fill="none" stroke="#a02c58" stroke-width="0.9" stroke-linejoin="miter"/>
<polygon points="170.70,51.67 174.17,49.67 174.17,53.66" fill="none" stroke="#a02c58" stroke-width="0.9" stroke-linejoin="miter"/>
<polygon points="178.40,50.58 181.87,48.59 181.87,52.58" fill="none" stroke="#a02c58" stroke-width="0.9" stroke-linejoin="miter"/>
<polygon points="186.10,43.67 189.57,41.68 189.57,45.67" fill="none" stroke="#a02c58" stroke-width="0.9" stroke-linejoin="miter"/>
<polygon points="193.80,44.36 197.27,42.37 197.27,46.36" fill="none" stroke="#a02c58" stroke-width="0.9" stroke-linejoin="miter"/>
<polygon points="51.70,144.37 48.23,142.37 48.23,146.36" fill="none" stroke="#d82c30" stroke-width="0.9" stroke-linejoin="miter"/>
<polygon points="59.40,135.20 55.93,133.21 55.93,137.20" fill="none" stroke="#d82c30" stroke-width="0.9" stroke-linejoin="miter"/>
<polygon points="67.10,126.81 63.63,124.81 63.63,128.80" fill="none" stroke="#d82c30" stroke-width="0.9" stroke-linejoin="miter"/>
<polygon points="74.80,119.28 71.34,117.29 71.34,121.28" fill="none" stroke="#d82c30" stroke-width="0.9" stroke-linejoin="miter"/>
<polygon points="82.50,112.31 79.04,110.32 79.04,114.31" fill="none" stroke="#d82c30" stroke-width="0.9" stroke-linejoin="miter"/>
<polygon points="90.20,105.38 86.73,103.39 86.73,107.38" fill="none" stroke="#d82c30" stroke-width="0.9" stroke-linejoin="miter"/>
<polygon points="97.90,98.54 94.44,96.55 94.44,100.54" fill="none" stroke="#d82c30" stroke-width="0.9" stroke-linejoin="miter"/>
<polygon points="105.60,91.53 102.14,89.53 102.14,93.52" fill="none" stroke="#d82c30" stroke-width="0.9" stroke-linejoin="miter"/>
<polygon points="113.30,86.22 109.83,84.22 109.83,88.21" fill="none" stroke="#d82c30" stroke-width="0.9" stroke-linejoin="miter"/>
<polygon points="121.00,79.77 117.54,77.78 117.54,81.77" fill="none" stroke="#d82c30" stroke-width="0.9" stroke-linejoin="miter"/>
<polygon points="128.70,73.83 125.23,71.83 125.23,75.82" fill="none" stroke="#d82c30" stroke-width="0.9" stroke-linejoin="miter"/>
<polygon points="136.40,69.41 132.94,67.41 132.94,71.40" fill="none" stroke="#d82c30" stroke-width="0.9" stroke-linejoin="miter"/>
<polygon points="144.10,63.48 140.63,61.48 140.63,65.47" fill="none" stroke="#d82c30" stroke-width="0.9" stroke-linejoin="miter"/>
<polygon points="151.80,59.28 148.33,57.28 148.33,61.27" fill="none" stroke="#d82c30" stroke-width="0.9" stroke-linejoin="miter"/>
<polygon points="159.50,52.97 156.03,50.97 156.03,54.96" fill="none" stroke="#d82c30" stroke-width="0.9" stroke-linejoin="miter"/>
<polygon points="167.20,51.83 163.73,49.83 163.73,53.82" fill="none" stroke="#d82c30" stroke-width="0.9" stroke-linejoin="miter"/>
<polygon points="174.90,49.72 171.44,47.72 171.44,51.71" fill="none" stroke="#d82c30" stroke-width="0.9" stroke-linejoin="miter"/>
<polygon points="182.60,46.75 179.13,44.76 179.13,48.75" fill="none" stroke="#d82c30" stroke-width="0.9" stroke-linejoin="miter"/>
<polygon points="190.30,43.70 186.84,41.70 186.84,45.69" fill="none" stroke="#d82c30" stroke-width="0.9" stroke-linejoin="miter"/>
<polygon points="198.00,40.09 194.53,38.09 194.53,42.08" fill="none" stroke="#d82c30" stroke-width="0.9" stroke-linejoin="miter"/>
<circle cx="49.60" cy="143.22" r="1.45" fill="none" stroke="#e83838" stroke-width="1.0"/>
<circle cx="57.30" cy="133.80" r="1.45" fill="none" stroke="#e83838" stroke-width="1.0"/>
<circle cx="65.00" cy="124.05" r="1.45" fill="none" stroke="#e83838" stroke-width="1.0"/>
<circle cx="72.70" cy="119.80" r="1.45" fill="none" stroke="#e83838" stroke-width="1.0"/>
<circle cx="80.40" cy="110.86" r="1.45" fill="none" stroke="#e83838" stroke-width="1.0"/>
<circle cx="88.10" cy="102.16" r="1.45" fill="none" stroke="#e83838" stroke-width="1.0"/>
<circle cx="95.80" cy="95.03" r="1.45" fill="none" stroke="#e83838" stroke-width="1.0"/>
<circle cx="103.50" cy="88.64" r="1.45" fill="none" stroke="#e83838" stroke-width="1.0"/>
<circle cx="111.20" cy="83.30" r="1.45" fill="none" stroke="#e83838" stroke-width="1.0"/>
<circle cx="118.90" cy="76.12" r="1.45" fill="none" stroke="#e83838" stroke-width="1.0"/>
<circle cx="126.60" cy="71.20" r="1.45" fill="none" stroke="#e83838" stroke-width="1.0"/>
<circle cx="134.30" cy="67.31" r="1.45" fill="none" stroke="#e83838" stroke-width="1.0"/>
<circle cx="142.00" cy="58.37" r="1.45" fill="none" stroke="#e83838" stroke-width="1.0"/>
<circle cx="149.70" cy="57.14" r="1.45" fill="none" stroke="#e83838" stroke-width="1.0"/>
<circle cx="157.40" cy="54.65" r="1.45" fill="none" stroke="#e83838" stroke-width="1.0"/>
<circle cx="165.10" cy="50.45" r="1.45" fill="none" stroke="#e83838" stroke-width="1.0"/>
<circle cx="172.80" cy="47.52" r="1.45" fill="none" stroke="#e83838" stroke-width="1.0"/>
<circle cx="180.50" cy="44.50" r="1.45" fill="none" stroke="#e83838" stroke-width="1.0"/>
<circle cx="188.20" cy="46.55" r="1.45" fill="none" stroke="#e83838" stroke-width="1.0"/>
<circle cx="195.90" cy="40.80" r="1.45" fill="none" stroke="#e83838" stroke-width="1.0"/>
<rect x="41.90" y="33.50" width="163.40" height="124.50" fill="none" stroke="#747474" stroke-width="1"/>
<line x1="41.90" y1="158.00" x2="41.90" y2="160.00" stroke="#747474" stroke-width="1" />
<line x1="57.30" y1="158.00" x2="57.30" y2="159.20" stroke="#747474" stroke-width="1" />
<line x1="72.70" y1="158.00" x2="72.70" y2="160.00" stroke="#747474" stroke-width="1" />
<line x1="88.10" y1="158.00" x2="88.10" y2="159.20" stroke="#747474" stroke-width="1" />
<line x1="103.50" y1="158.00" x2="103.50" y2="160.00" stroke="#747474" stroke-width="1" />
<line x1="118.90" y1="158.00" x2="118.90" y2="159.20" stroke="#747474" stroke-width="1" />
<line x1="134.30" y1="158.00" x2="134.30" y2="160.00" stroke="#747474" stroke-width="1" />
<line x1="149.70" y1="158.00" x2="149.70" y2="159.20" stroke="#747474" stroke-width="1" />
<line x1="165.10" y1="158.00" x2="165.10" y2="160.00" stroke="#747474" stroke-width="1" />
<line x1="180.50" y1="158.00" x2="180.50" y2="159.20" stroke="#747474" stroke-width="1" />
<line x1="195.90" y1="158.00" x2="195.90" y2="160.00" stroke="#747474" stroke-width="1" />
<line x1="41.90" y1="152.30" x2="39.90" y2="152.30" stroke="#747474" stroke-width="1" />
<line x1="41.90" y1="141.04" x2="40.70" y2="141.04" stroke="#747474" stroke-width="1" />
<line x1="41.90" y1="129.78" x2="39.90" y2="129.78" stroke="#747474" stroke-width="1" />
<line x1="41.90" y1="118.52" x2="40.70" y2="118.52" stroke="#747474" stroke-width="1" />
<line x1="41.90" y1="107.26" x2="39.90" y2="107.26" stroke="#747474" stroke-width="1" />
<line x1="41.90" y1="96.00" x2="40.70" y2="96.00" stroke="#747474" stroke-width="1" />
<line x1="41.90" y1="84.74" x2="39.90" y2="84.74" stroke="#747474" stroke-width="1" />
<line x1="41.90" y1="73.48" x2="40.70" y2="73.48" stroke="#747474" stroke-width="1" />
<line x1="41.90" y1="62.22" x2="39.90" y2="62.22" stroke="#747474" stroke-width="1" />
<line x1="41.90" y1="50.96" x2="40.70" y2="50.96" stroke="#747474" stroke-width="1" />
<line x1="41.90" y1="39.70" x2="39.90" y2="39.70" stroke="#747474" stroke-width="1" />
<text transform="translate(41.90 167.29) scale(0.8929 1)" font-size="7.95" text-anchor="middle" fill="#2a2a2a" >0</text>
<text transform="translate(38.30 154.49) scale(0.8929 1)" font-size="7.95" text-anchor="end" fill="#2a2a2a" >0</text>
<text transform="translate(72.70 167.29) scale(0.8929 1)" font-size="7.95" text-anchor="middle" fill="#2a2a2a" >20</text>
<text transform="translate(38.30 131.97) scale(0.8929 1)" font-size="7.95" text-anchor="end" fill="#2a2a2a" >20</text>
<text transform="translate(103.50 167.29) scale(0.8929 1)" font-size="7.95" text-anchor="middle" fill="#2a2a2a" >40</text>
<text transform="translate(38.30 109.45) scale(0.8929 1)" font-size="7.95" text-anchor="end" fill="#2a2a2a" >40</text>
<text transform="translate(134.30 167.29) scale(0.8929 1)" font-size="7.95" text-anchor="middle" fill="#2a2a2a" >60</text>
<text transform="translate(38.30 86.93) scale(0.8929 1)" font-size="7.95" text-anchor="end" fill="#2a2a2a" >60</text>
<text transform="translate(165.10 167.29) scale(0.8929 1)" font-size="7.95" text-anchor="middle" fill="#2a2a2a" >80</text>
<text transform="translate(38.30 64.41) scale(0.8929 1)" font-size="7.95" text-anchor="end" fill="#2a2a2a" >80</text>
<text transform="translate(195.90 167.29) scale(0.8929 1)" font-size="7.95" text-anchor="middle" fill="#2a2a2a" >100</text>
<text transform="translate(38.30 41.89) scale(0.8929 1)" font-size="7.95" text-anchor="end" fill="#2a2a2a" >100</text>
<text transform="translate(122.90 180.07) scale(0.8929 1)" font-size="9.35" text-anchor="middle" fill="#2a2a2a" >Electrode Frequency (kHz)</text>
<text transform="translate(21.55 94.60) rotate(-90) scale(0.8929 1)" font-size="9.30" text-anchor="middle" fill="#2a2a2a"><tspan font-style="italic">Δf/f</tspan><tspan font-size="6.16" dy="1.8">0</tspan><tspan dy="-1.8"> (x10</tspan><tspan font-size="6.16" dy="-3">-6</tspan><tspan dy="3">)</tspan></text>
<rect x="49.00" y="37.10" width="2.80" height="2.80" fill="none" stroke="#3050e0" stroke-width="1.0"/>
<text x="60.80" y="40.98" font-size="7.1" text-anchor="start" fill="#2a2a2a" class="ns">0%</text>
<circle cx="86.30" cy="38.50" r="1.45" fill="none" stroke="#3344dd" stroke-width="1.0"/>
<text x="96.70" y="40.98" font-size="7.1" text-anchor="start" fill="#2a2a2a" class="ns">2%</text>
<polygon points="50.40,45.70 52.39,49.16 48.41,49.16" fill="none" stroke="#4848c0" stroke-width="0.9" stroke-linejoin="miter"/>
<text x="60.80" y="50.28" font-size="7.1" text-anchor="start" fill="#2a2a2a" class="ns">4%</text>
<polygon points="86.30,49.90 88.30,46.43 84.30,46.43" fill="none" stroke="#5840a8" stroke-width="0.9" stroke-linejoin="miter"/>
<text x="96.70" y="50.28" font-size="7.1" text-anchor="start" fill="#2a2a2a" class="ns">6%</text>
<polygon points="50.40,55.00 52.40,57.00 50.40,59.00 48.40,57.00" fill="none" stroke="#783090" stroke-width="0.9" stroke-linejoin="miter"/>
<text x="60.80" y="59.48" font-size="7.1" text-anchor="start" fill="#2a2a2a" class="ns">8%</text>
<polygon points="84.20,57.00 87.66,55.01 87.66,58.99" fill="none" stroke="#a02c58" stroke-width="0.9" stroke-linejoin="miter"/>
<text x="96.70" y="59.48" font-size="7.1" text-anchor="start" fill="#2a2a2a" class="ns">10%</text>
<polygon points="52.50,66.20 49.03,64.20 49.03,68.20" fill="none" stroke="#d82c30" stroke-width="0.9" stroke-linejoin="miter"/>
<text x="60.80" y="68.69" font-size="7.1" text-anchor="start" fill="#2a2a2a" class="ns">12%</text>
<circle cx="86.30" cy="66.20" r="1.45" fill="none" stroke="#e83838" stroke-width="1.0"/>
<text x="96.70" y="68.69" font-size="7.1" text-anchor="start" fill="#2a2a2a" class="ns">14%</text>
<line x1="275.60" y1="154.60" x2="441.50" y2="146.90" stroke="#d83030" stroke-width="1.1" />
<circle cx="296.20" cy="153.40" r="2.0" fill="#333"/>
<circle cx="314.50" cy="152.60" r="2.0" fill="#333"/>
<circle cx="333.30" cy="149.90" r="2.0" fill="#333"/>
<circle cx="351.80" cy="145.40" r="2.0" fill="#333"/>
<circle cx="370.80" cy="139.60" r="2.0" fill="#333"/>
<circle cx="390.40" cy="131.80" r="2.0" fill="#333"/>
<circle cx="410.20" cy="108.30" r="2.0" fill="#333"/>
<circle cx="429.40" cy="41.10" r="2.0" fill="#333"/>
<rect x="275.60" y="33.30" width="165.90" height="128.10" fill="none" stroke="#747474" stroke-width="1"/>
<line x1="275.60" y1="161.40" x2="275.60" y2="162.60" stroke="#747474" stroke-width="1" />
<line x1="299.30" y1="161.40" x2="299.30" y2="163.40" stroke="#747474" stroke-width="1" />
<line x1="323.00" y1="161.40" x2="323.00" y2="162.60" stroke="#747474" stroke-width="1" />
<line x1="346.70" y1="161.40" x2="346.70" y2="163.40" stroke="#747474" stroke-width="1" />
<line x1="370.40" y1="161.40" x2="370.40" y2="162.60" stroke="#747474" stroke-width="1" />
<line x1="394.10" y1="161.40" x2="394.10" y2="163.40" stroke="#747474" stroke-width="1" />
<line x1="417.80" y1="161.40" x2="417.80" y2="162.60" stroke="#747474" stroke-width="1" />
<line x1="441.50" y1="161.40" x2="441.50" y2="163.40" stroke="#747474" stroke-width="1" />
<line x1="275.60" y1="161.40" x2="273.60" y2="161.40" stroke="#747474" stroke-width="1" />
<line x1="275.60" y1="146.40" x2="274.40" y2="146.40" stroke="#747474" stroke-width="1" />
<line x1="275.60" y1="131.40" x2="273.60" y2="131.40" stroke="#747474" stroke-width="1" />
<line x1="275.60" y1="116.40" x2="274.40" y2="116.40" stroke="#747474" stroke-width="1" />
<line x1="275.60" y1="101.40" x2="273.60" y2="101.40" stroke="#747474" stroke-width="1" />
<line x1="275.60" y1="86.40" x2="274.40" y2="86.40" stroke="#747474" stroke-width="1" />
<line x1="275.60" y1="71.40" x2="273.60" y2="71.40" stroke="#747474" stroke-width="1" />
<line x1="275.60" y1="56.40" x2="274.40" y2="56.40" stroke="#747474" stroke-width="1" />
<line x1="275.60" y1="41.40" x2="273.60" y2="41.40" stroke="#747474" stroke-width="1" />
<text transform="translate(299.30 171.19) scale(0.8929 1)" font-size="7.95" text-anchor="middle" fill="#2a2a2a" >0.54</text>
<text transform="translate(346.70 171.19) scale(0.8929 1)" font-size="7.95" text-anchor="middle" fill="#2a2a2a" >0.56</text>
<text transform="translate(394.10 171.19) scale(0.8929 1)" font-size="7.95" text-anchor="middle" fill="#2a2a2a" >0.58</text>
<text transform="translate(441.50 171.19) scale(0.8929 1)" font-size="7.95" text-anchor="middle" fill="#2a2a2a" >0.60</text>
<text transform="translate(271.90 163.79) scale(0.8929 1)" font-size="7.95" text-anchor="end" fill="#2a2a2a" >0.2</text>
<text transform="translate(271.90 133.79) scale(0.8929 1)" font-size="7.95" text-anchor="end" fill="#2a2a2a" >0.4</text>
<text transform="translate(271.90 103.78) scale(0.8929 1)" font-size="7.95" text-anchor="end" fill="#2a2a2a" >0.6</text>
<text transform="translate(271.90 73.78) scale(0.8929 1)" font-size="7.95" text-anchor="end" fill="#2a2a2a" >0.8</text>
<text transform="translate(271.90 43.79) scale(0.8929 1)" font-size="7.95" text-anchor="end" fill="#2a2a2a" >1.0</text>
<text transform="translate(358.50 183.41) scale(0.8929 1)" font-size="9.18" text-anchor="middle" fill="#2a2a2a" >Thermal Conductivity (W/mK)</text>
<text transform="translate(258.25 97.30) rotate(-90) scale(0.8929 1)" font-size="9.30" text-anchor="middle" fill="#2a2a2a">(Normalized Frequency Shift)<tspan font-size="6.16" dy="-3">-1</tspan></text>
<line x1="509.60" y1="151.90" x2="671.70" y2="44.50" stroke="#e02828" stroke-width="1.2" />
<circle cx="524.60" cy="150.20" r="2.0" fill="#333"/>
<circle cx="553.20" cy="124.60" r="2.0" fill="#333"/>
<circle cx="579.00" cy="101.80" r="2.0" fill="#333"/>
<circle cx="601.30" cy="90.20" r="2.0" fill="#333"/>
<circle cx="620.10" cy="78.40" r="2.0" fill="#333"/>
<circle cx="635.20" cy="66.60" r="2.0" fill="#333"/>
<circle cx="647.20" cy="59.30" r="2.0" fill="#333"/>
<circle cx="655.20" cy="56.80" r="2.0" fill="#333"/>
<rect x="509.60" y="33.50" width="162.10" height="129.20" fill="none" stroke="#747474" stroke-width="1"/>
<line x1="509.40" y1="162.70" x2="509.40" y2="163.90" stroke="#747474" stroke-width="1" />
<line x1="532.60" y1="162.70" x2="532.60" y2="164.70" stroke="#747474" stroke-width="1" />
<line x1="555.80" y1="162.70" x2="555.80" y2="163.90" stroke="#747474" stroke-width="1" />
<line x1="579.00" y1="162.70" x2="579.00" y2="164.70" stroke="#747474" stroke-width="1" />
<line x1="602.20" y1="162.70" x2="602.20" y2="163.90" stroke="#747474" stroke-width="1" />
<line x1="625.40" y1="162.70" x2="625.40" y2="164.70" stroke="#747474" stroke-width="1" />
<line x1="648.60" y1="162.70" x2="648.60" y2="163.90" stroke="#747474" stroke-width="1" />
<line x1="671.80" y1="162.70" x2="671.80" y2="164.70" stroke="#747474" stroke-width="1" />
<line x1="509.60" y1="150.30" x2="507.60" y2="150.30" stroke="#747474" stroke-width="1" />
<line x1="509.60" y1="134.65" x2="508.40" y2="134.65" stroke="#747474" stroke-width="1" />
<line x1="509.60" y1="119.00" x2="507.60" y2="119.00" stroke="#747474" stroke-width="1" />
<line x1="509.60" y1="103.35" x2="508.40" y2="103.35" stroke="#747474" stroke-width="1" />
<line x1="509.60" y1="87.70" x2="507.60" y2="87.70" stroke="#747474" stroke-width="1" />
<line x1="509.60" y1="72.05" x2="508.40" y2="72.05" stroke="#747474" stroke-width="1" />
<line x1="509.60" y1="56.40" x2="507.60" y2="56.40" stroke="#747474" stroke-width="1" />
<line x1="509.60" y1="40.75" x2="508.40" y2="40.75" stroke="#747474" stroke-width="1" />
<line x1="509.60" y1="165.95" x2="508.40" y2="165.95" stroke="#747474" stroke-width="1" />
<line x1="509.60" y1="165.95" x2="508.40" y2="165.95" stroke="#747474" stroke-width="1" />
<text transform="translate(532.60 172.14) scale(0.8929 1)" font-size="7.84" text-anchor="middle" fill="#2a2a2a" >10.28</text>
<text transform="translate(579.00 172.14) scale(0.8929 1)" font-size="7.84" text-anchor="middle" fill="#2a2a2a" >10.32</text>
<text transform="translate(625.40 172.14) scale(0.8929 1)" font-size="7.84" text-anchor="middle" fill="#2a2a2a" >10.36</text>
<text transform="translate(671.80 172.14) scale(0.8929 1)" font-size="7.84" text-anchor="middle" fill="#2a2a2a" >10.40</text>
<text transform="translate(506.60 152.14) scale(0.8929 1)" font-size="7.84" text-anchor="end" fill="#2a2a2a" >1</text>
<text transform="translate(506.60 120.84) scale(0.8929 1)" font-size="7.84" text-anchor="end" fill="#2a2a2a" >2</text>
<text transform="translate(506.60 89.54) scale(0.8929 1)" font-size="7.84" text-anchor="end" fill="#2a2a2a" >3</text>
<text transform="translate(506.60 58.24) scale(0.8929 1)" font-size="7.84" text-anchor="end" fill="#2a2a2a" >4</text>
<text transform="translate(625.30 182.09) scale(0.8929 1)" font-size="9.41" text-anchor="end" fill="#2a2a2a">ε<tspan font-size="6.05" dy="-3">2</tspan><tspan dy="3">/κ (x10</tspan><tspan font-size="6.05" dy="-3">3</tspan><tspan dy="3"> ε</tspan><tspan font-size="6.05" dy="1.8">0</tspan><tspan dy="-1.8">Km/W)</tspan></text>
<text transform="translate(497.53 102.40) rotate(-90) scale(0.8929 1)" font-size="11.42" text-anchor="middle" fill="#2a2a2a">Normalized Frequency Shift</text>
<polyline points="45.70,348.00 46.50,348.00 47.30,348.00 48.10,348.00 48.90,348.00 49.70,347.91 50.50,347.80 51.30,347.67 52.10,347.54 52.90,347.40 53.70,347.25 54.50,347.09 55.30,346.92 56.10,346.74 56.90,346.55 57.70,346.35 58.50,346.15 59.30,345.93 60.10,345.71 60.90,345.48 61.70,345.24 62.50,345.00 63.30,344.74 64.10,344.48 64.90,344.21 65.70,343.94 66.50,343.66 67.30,343.37 68.10,343.07 68.90,342.77 69.70,342.46 70.50,342.14 71.30,341.82 72.10,341.49 72.90,341.16 73.70,340.82 74.50,340.47 75.30,340.12 76.10,339.76 76.90,339.40 77.70,339.03 78.50,338.66 79.30,338.28 80.10,337.89 80.90,337.50 81.70,337.10 82.50,336.70 83.30,336.30 84.10,335.89 84.90,335.47 85.70,335.05 86.50,334.62 87.30,334.19 88.10,333.76 88.90,333.32 89.70,332.87 90.50,332.42 91.30,331.97 92.10,331.51 92.90,331.05 93.70,330.58 94.50,330.11 95.30,329.63 96.10,329.15 96.90,328.67 97.70,328.18 98.50,327.69 99.30,327.19 100.10,326.68 100.90,326.18 101.70,325.67 102.50,325.15 103.30,324.63 104.10,324.11 104.90,323.58 105.70,323.05 106.50,322.51 107.30,321.97 108.10,321.43 108.90,320.88 109.70,320.33 110.50,319.77 111.30,319.21 112.10,318.65 112.90,318.08 113.70,317.51 114.50,316.93 115.30,316.35 116.10,315.76 116.90,315.17 117.70,314.58 118.50,313.98 119.30,313.38 120.10,312.78 120.90,312.17 121.70,311.56 122.50,310.94 123.30,310.32 124.10,309.69 124.90,309.07 125.70,308.43 126.50,307.80 127.30,307.16 128.10,306.51 128.90,305.87 129.70,305.21 130.50,304.56 131.30,303.90 132.10,303.24 132.90,302.57 133.70,301.90 134.50,301.23 135.30,300.55 136.10,299.87 136.90,299.18 137.70,298.49 138.50,297.80 139.30,297.11 140.10,296.41 140.90,295.71 141.70,295.00 142.50,294.29 143.30,293.58 144.10,292.87 144.90,292.15 145.70,291.43 146.50,290.70 147.30,289.97 148.10,289.24 148.90,288.51 149.70,287.78 150.50,287.04 151.30,286.30 152.10,285.55 152.90,284.81 153.70,284.06 154.50,283.31 155.30,282.56 156.10,281.80 156.90,281.05 157.70,280.29 158.50,279.53 159.30,278.77 160.10,278.00 160.90,277.24 161.70,276.47 162.50,275.70 163.30,274.93 164.10,274.17 164.90,273.40 165.70,272.62 166.50,271.85 167.30,271.08 168.10,270.31 168.90,269.54 169.70,268.77 170.50,267.99 171.30,267.22 172.10,266.45 172.90,265.68 173.70,264.91 174.50,264.15 175.30,263.38 176.10,262.62 176.90,261.85 177.70,261.09 178.50,260.33 179.30,259.58 180.10,258.82 180.90,258.07 181.70,257.33 182.50,256.58 183.30,255.84 184.10,255.10 184.90,254.37 185.70,253.64 186.50,252.92 187.30,252.20 188.10,251.49 188.90,250.78 189.70,250.07 190.50,249.38 191.30,248.69 192.10,248.01 192.90,247.33 193.70,246.66 194.50,246.00 195.30,245.35 196.10,244.70 196.90,244.06 197.70,243.44 198.50,242.82 199.30,242.21 200.10,241.61 200.90,241.03 201.70,240.45 202.50,239.89 203.30,239.33 204.10,238.79 204.90,238.26 205.70,237.75 206.50,237.25 207.30,236.76 208.10,236.28 208.90,235.82 209.70,235.38 210.50,234.95 211.30,234.54 212.10,234.15 212.90,233.77" fill="none" stroke="#2233bb" stroke-width="1.1" stroke-linejoin="round"/>
<polyline points="45.70,348.00 46.50,348.00 47.30,348.00 48.10,348.00 48.90,348.00 49.70,347.93 50.50,347.86 51.30,347.77 52.10,347.67 52.90,347.57 53.70,347.47 54.50,347.35 55.30,347.23 56.10,347.10 56.90,346.97 57.70,346.83 58.50,346.68 59.30,346.53 60.10,346.37 60.90,346.21 61.70,346.04 62.50,345.87 63.30,345.69 64.10,345.50 64.90,345.31 65.70,345.12 66.50,344.92 67.30,344.71 68.10,344.50 68.90,344.28 69.70,344.07 70.50,343.84 71.30,343.61 72.10,343.38 72.90,343.14 73.70,342.90 74.50,342.66 75.30,342.41 76.10,342.15 76.90,341.89 77.70,341.63 78.50,341.37 79.30,341.10 80.10,340.82 80.90,340.55 81.70,340.26 82.50,339.98 83.30,339.69 84.10,339.40 84.90,339.10 85.70,338.81 86.50,338.50 87.30,338.20 88.10,337.89 88.90,337.58 89.70,337.26 90.50,336.94 91.30,336.62 92.10,336.29 92.90,335.97 93.70,335.63 94.50,335.30 95.30,334.96 96.10,334.62 96.90,334.27 97.70,333.93 98.50,333.58 99.30,333.22 100.10,332.87 100.90,332.51 101.70,332.14 102.50,331.78 103.30,331.41 104.10,331.04 104.90,330.66 105.70,330.29 106.50,329.91 107.30,329.52 108.10,329.14 108.90,328.75 109.70,328.35 110.50,327.96 111.30,327.56 112.10,327.16 112.90,326.76 113.70,326.35 114.50,325.94 115.30,325.53 116.10,325.11 116.90,324.69 117.70,324.27 118.50,323.85 119.30,323.42 120.10,322.99 120.90,322.56 121.70,322.13 122.50,321.69 123.30,321.25 124.10,320.80 124.90,320.36 125.70,319.91 126.50,319.46 127.30,319.00 128.10,318.54 128.90,318.08 129.70,317.62 130.50,317.16 131.30,316.69 132.10,316.22 132.90,315.74 133.70,315.27 134.50,314.79 135.30,314.31 136.10,313.83 136.90,313.34 137.70,312.85 138.50,312.36 139.30,311.87 140.10,311.37 140.90,310.87 141.70,310.37 142.50,309.87 143.30,309.36 144.10,308.85 144.90,308.34 145.70,307.83 146.50,307.32 147.30,306.80 148.10,306.28 148.90,305.76 149.70,305.24 150.50,304.72 151.30,304.19 152.10,303.66 152.90,303.13 153.70,302.60 154.50,302.07 155.30,301.54 156.10,301.00 156.90,300.46 157.70,299.92 158.50,299.38 159.30,298.84 160.10,298.30 160.90,297.76 161.70,297.21 162.50,296.67 163.30,296.12 164.10,295.58 164.90,295.03 165.70,294.48 166.50,293.94 167.30,293.39 168.10,292.84 168.90,292.29 169.70,291.74 170.50,291.20 171.30,290.65 172.10,290.10 172.90,289.55 173.70,289.01 174.50,288.46 175.30,287.92 176.10,287.38 176.90,286.84 177.70,286.30 178.50,285.76 179.30,285.22 180.10,284.68 180.90,284.15 181.70,283.62 182.50,283.09 183.30,282.57 184.10,282.04 184.90,281.52 185.70,281.01 186.50,280.49 187.30,279.98 188.10,279.47 188.90,278.97 189.70,278.47 190.50,277.98 191.30,277.49 192.10,277.00 192.90,276.52 193.70,276.05 194.50,275.58 195.30,275.12 196.10,274.66 196.90,274.21 197.70,273.76 198.50,273.32 199.30,272.89 200.10,272.47 200.90,272.05 201.70,271.64 202.50,271.24 203.30,270.85 204.10,270.46 204.90,270.09 205.70,269.72 206.50,269.36 207.30,269.02 208.10,268.68 208.90,268.36 209.70,268.04 210.50,267.74 211.30,267.44 212.10,267.16 212.90,266.90" fill="none" stroke="#2a44cc" stroke-width="1.1" stroke-linejoin="round"/>
<polyline points="45.70,348.00 46.50,348.00 47.30,348.00 48.10,348.00 48.90,348.00 49.70,347.95 50.50,347.88 51.30,347.81 52.10,347.73 52.90,347.65 53.70,347.56 54.50,347.47 55.30,347.37 56.10,347.26 56.90,347.15 57.70,347.04 58.50,346.92 59.30,346.79 60.10,346.66 60.90,346.53 61.70,346.39 62.50,346.24 63.30,346.09 64.10,345.94 64.90,345.78 65.70,345.62 66.50,345.46 67.30,345.29 68.10,345.12 68.90,344.94 69.70,344.76 70.50,344.57 71.30,344.39 72.10,344.19 72.90,344.00 73.70,343.80 74.50,343.60 75.30,343.39 76.10,343.18 76.90,342.97 77.70,342.75 78.50,342.53 79.30,342.31 80.10,342.09 80.90,341.86 81.70,341.63 82.50,341.39 83.30,341.15 84.10,340.91 84.90,340.67 85.70,340.42 86.50,340.18 87.30,339.92 88.10,339.67 88.90,339.41 89.70,339.15 90.50,338.89 91.30,338.62 92.10,338.35 92.90,338.08 93.70,337.81 94.50,337.53 95.30,337.26 96.10,336.97 96.90,336.69 97.70,336.40 98.50,336.12 99.30,335.82 100.10,335.53 100.90,335.23 101.70,334.94 102.50,334.63 103.30,334.33 104.10,334.02 104.90,333.72 105.70,333.40 106.50,333.09 107.30,332.77 108.10,332.46 108.90,332.14 109.70,331.81 110.50,331.49 111.30,331.16 112.10,330.83 112.90,330.50 113.70,330.16 114.50,329.82 115.30,329.48 116.10,329.14 116.90,328.80 117.70,328.45 118.50,328.10 119.30,327.75 120.10,327.40 120.90,327.04 121.70,326.68 122.50,326.32 123.30,325.96 124.10,325.59 124.90,325.22 125.70,324.85 126.50,324.48 127.30,324.11 128.10,323.73 128.90,323.35 129.70,322.97 130.50,322.59 131.30,322.20 132.10,321.81 132.90,321.42 133.70,321.03 134.50,320.64 135.30,320.24 136.10,319.84 136.90,319.44 137.70,319.04 138.50,318.63 139.30,318.23 140.10,317.82 140.90,317.41 141.70,317.00 142.50,316.58 143.30,316.16 144.10,315.75 144.90,315.33 145.70,314.90 146.50,314.48 147.30,314.06 148.10,313.63 148.90,313.20 149.70,312.77 150.50,312.34 151.30,311.90 152.10,311.47 152.90,311.03 153.70,310.60 154.50,310.16 155.30,309.72 156.10,309.27 156.90,308.83 157.70,308.39 158.50,307.94 159.30,307.50 160.10,307.05 160.90,306.60 161.70,306.16 162.50,305.71 163.30,305.26 164.10,304.81 164.90,304.36 165.70,303.91 166.50,303.45 167.30,303.00 168.10,302.55 168.90,302.10 169.70,301.65 170.50,301.20 171.30,300.75 172.10,300.29 172.90,299.84 173.70,299.39 174.50,298.95 175.30,298.50 176.10,298.05 176.90,297.60 177.70,297.16 178.50,296.72 179.30,296.27 180.10,295.83 180.90,295.39 181.70,294.96 182.50,294.52 183.30,294.09 184.10,293.66 184.90,293.23 185.70,292.80 186.50,292.38 187.30,291.96 188.10,291.54 188.90,291.12 189.70,290.71 190.50,290.31 191.30,289.90 192.10,289.50 192.90,289.11 193.70,288.72 194.50,288.33 195.30,287.95 196.10,287.57 196.90,287.20 197.70,286.83 198.50,286.47 199.30,286.11 200.10,285.76 200.90,285.42 201.70,285.08 202.50,284.75 203.30,284.43 204.10,284.11 204.90,283.80 205.70,283.50 206.50,283.21 207.30,282.92 208.10,282.65 208.90,282.38 209.70,282.12 210.50,281.87 211.30,281.63 212.10,281.40 212.90,281.17" fill="none" stroke="#3a6ad8" stroke-width="1.1" stroke-linejoin="round"/>
<polyline points="45.70,348.00 46.50,348.00 47.30,348.00 48.10,348.00 48.90,348.00 49.70,347.96 50.50,347.91 51.30,347.85 52.10,347.79 52.90,347.72 53.70,347.65 54.50,347.58 55.30,347.50 56.10,347.41 56.90,347.32 57.70,347.23 58.50,347.14 59.30,347.04 60.10,346.93 60.90,346.83 61.70,346.72 62.50,346.60 63.30,346.48 64.10,346.36 64.90,346.24 65.70,346.11 66.50,345.98 67.30,345.85 68.10,345.71 68.90,345.57 69.70,345.42 70.50,345.28 71.30,345.13 72.10,344.97 72.90,344.82 73.70,344.66 74.50,344.50 75.30,344.34 76.10,344.17 76.90,344.00 77.70,343.83 78.50,343.65 79.30,343.48 80.10,343.30 80.90,343.12 81.70,342.93 82.50,342.75 83.30,342.56 84.10,342.37 84.90,342.17 85.70,341.98 86.50,341.78 87.30,341.58 88.10,341.38 88.90,341.17 89.70,340.97 90.50,340.76 91.30,340.55 92.10,340.33 92.90,340.12 93.70,339.90 94.50,339.68 95.30,339.46 96.10,339.24 96.90,339.01 97.70,338.78 98.50,338.55 99.30,338.32 100.10,338.09 100.90,337.85 101.70,337.62 102.50,337.38 103.30,337.13 104.10,336.89 104.90,336.65 105.70,336.40 106.50,336.15 107.30,335.90 108.10,335.64 108.90,335.39 109.70,335.13 110.50,334.87 111.30,334.61 112.10,334.35 112.90,334.09 113.70,333.82 114.50,333.55 115.30,333.28 116.10,333.01 116.90,332.74 117.70,332.46 118.50,332.18 119.30,331.90 120.10,331.62 120.90,331.34 121.70,331.05 122.50,330.77 123.30,330.48 124.10,330.19 124.90,329.90 125.70,329.60 126.50,329.31 127.30,329.01 128.10,328.71 128.90,328.41 129.70,328.10 130.50,327.80 131.30,327.49 132.10,327.18 132.90,326.87 133.70,326.56 134.50,326.25 135.30,325.93 136.10,325.62 136.90,325.30 137.70,324.98 138.50,324.66 139.30,324.33 140.10,324.01 140.90,323.68 141.70,323.36 142.50,323.03 143.30,322.69 144.10,322.36 144.90,322.03 145.70,321.69 146.50,321.36 147.30,321.02 148.10,320.68 148.90,320.34 149.70,320.00 150.50,319.65 151.30,319.31 152.10,318.96 152.90,318.62 153.70,318.27 154.50,317.92 155.30,317.57 156.10,317.22 156.90,316.87 157.70,316.51 158.50,316.16 159.30,315.81 160.10,315.45 160.90,315.10 161.70,314.74 162.50,314.38 163.30,314.02 164.10,313.67 164.90,313.31 165.70,312.95 166.50,312.59 167.30,312.23 168.10,311.87 168.90,311.51 169.70,311.16 170.50,310.80 171.30,310.44 172.10,310.08 172.90,309.72 173.70,309.37 174.50,309.01 175.30,308.65 176.10,308.30 176.90,307.94 177.70,307.59 178.50,307.24 179.30,306.88 180.10,306.53 180.90,306.18 181.70,305.84 182.50,305.49 183.30,305.15 184.10,304.80 184.90,304.46 185.70,304.12 186.50,303.79 187.30,303.45 188.10,303.12 188.90,302.79 189.70,302.46 190.50,302.14 191.30,301.82 192.10,301.50 192.90,301.19 193.70,300.88 194.50,300.57 195.30,300.27 196.10,299.97 196.90,299.67 197.70,299.38 198.50,299.09 199.30,298.81 200.10,298.53 200.90,298.26 201.70,297.99 202.50,297.73 203.30,297.47 204.10,297.22 204.90,296.97 205.70,296.73 206.50,296.50 207.30,296.27 208.10,296.05 208.90,295.84 209.70,295.63 210.50,295.43 211.30,295.24 212.10,295.06 212.90,294.88" fill="none" stroke="#3a98dc" stroke-width="1.1" stroke-linejoin="round"/>
<polyline points="45.70,348.00 46.50,348.00 47.30,348.00 48.10,348.00 48.90,348.00 49.70,347.96 50.50,347.92 51.30,347.86 52.10,347.81 52.90,347.75 53.70,347.69 54.50,347.62 55.30,347.55 56.10,347.48 56.90,347.40 57.70,347.32 58.50,347.23 59.30,347.14 60.10,347.05 60.90,346.95 61.70,346.86 62.50,346.75 63.30,346.65 64.10,346.54 64.90,346.43 65.70,346.31 66.50,346.20 67.30,346.08 68.10,345.95 68.90,345.83 69.70,345.70 70.50,345.57 71.30,345.44 72.10,345.30 72.90,345.16 73.70,345.02 74.50,344.88 75.30,344.73 76.10,344.58 76.90,344.43 77.70,344.28 78.50,344.12 79.30,343.96 80.10,343.80 80.90,343.64 81.70,343.48 82.50,343.31 83.30,343.14 84.10,342.97 84.90,342.80 85.70,342.63 86.50,342.45 87.30,342.27 88.10,342.09 88.90,341.91 89.70,341.72 90.50,341.54 91.30,341.35 92.10,341.16 92.90,340.97 93.70,340.77 94.50,340.58 95.30,340.38 96.10,340.18 96.90,339.98 97.70,339.77 98.50,339.57 99.30,339.36 100.10,339.15 100.90,338.94 101.70,338.73 102.50,338.52 103.30,338.30 104.10,338.09 104.90,337.87 105.70,337.65 106.50,337.42 107.30,337.20 108.10,336.97 108.90,336.75 109.70,336.52 110.50,336.29 111.30,336.05 112.10,335.82 112.90,335.58 113.70,335.34 114.50,335.11 115.30,334.86 116.10,334.62 116.90,334.38 117.70,334.13 118.50,333.88 119.30,333.63 120.10,333.38 120.90,333.13 121.70,332.88 122.50,332.62 123.30,332.36 124.10,332.10 124.90,331.84 125.70,331.58 126.50,331.32 127.30,331.05 128.10,330.78 128.90,330.51 129.70,330.24 130.50,329.97 131.30,329.70 132.10,329.42 132.90,329.15 133.70,328.87 134.50,328.59 135.30,328.31 136.10,328.02 136.90,327.74 137.70,327.45 138.50,327.17 139.30,326.88 140.10,326.59 140.90,326.30 141.70,326.01 142.50,325.71 143.30,325.42 144.10,325.12 144.90,324.82 145.70,324.52 146.50,324.22 147.30,323.92 148.10,323.62 148.90,323.31 149.70,323.01 150.50,322.70 151.30,322.39 152.10,322.08 152.90,321.78 153.70,321.46 154.50,321.15 155.30,320.84 156.10,320.53 156.90,320.21 157.70,319.90 158.50,319.58 159.30,319.27 160.10,318.95 160.90,318.63 161.70,318.32 162.50,318.00 163.30,317.68 164.10,317.36 164.90,317.04 165.70,316.72 166.50,316.40 167.30,316.08 168.10,315.76 168.90,315.44 169.70,315.12 170.50,314.80 171.30,314.48 172.10,314.16 172.90,313.84 173.70,313.52 174.50,313.20 175.30,312.88 176.10,312.57 176.90,312.25 177.70,311.93 178.50,311.62 179.30,311.30 180.10,310.99 180.90,310.68 181.70,310.37 182.50,310.06 183.30,309.75 184.10,309.45 184.90,309.14 185.70,308.84 186.50,308.54 187.30,308.24 188.10,307.95 188.90,307.65 189.70,307.36 190.50,307.07 191.30,306.79 192.10,306.50 192.90,306.22 193.70,305.94 194.50,305.67 195.30,305.40 196.10,305.13 196.90,304.87 197.70,304.61 198.50,304.35 199.30,304.10 200.10,303.85 200.90,303.61 201.70,303.37 202.50,303.13 203.30,302.90 204.10,302.68 204.90,302.46 205.70,302.25 206.50,302.04 207.30,301.83 208.10,301.64 208.90,301.45 209.70,301.26 210.50,301.09 211.30,300.91 212.10,300.75 212.90,300.59" fill="none" stroke="#44ccea" stroke-width="1.1" stroke-linejoin="round"/>
<polyline points="45.70,348.00 46.50,348.00 47.30,348.00 48.10,348.00 48.90,348.00 49.70,347.97 50.50,347.93 51.30,347.89 52.10,347.85 52.90,347.80 53.70,347.75 54.50,347.70 55.30,347.64 56.10,347.58 56.90,347.52 57.70,347.46 58.50,347.39 59.30,347.32 60.10,347.24 60.90,347.17 61.70,347.09 62.50,347.01 63.30,346.92 64.10,346.84 64.90,346.75 65.70,346.66 66.50,346.57 67.30,346.47 68.10,346.37 68.90,346.27 69.70,346.17 70.50,346.07 71.30,345.96 72.10,345.85 72.90,345.74 73.70,345.63 74.50,345.52 75.30,345.40 76.10,345.28 76.90,345.16 77.70,345.04 78.50,344.92 79.30,344.79 80.10,344.66 80.90,344.54 81.70,344.40 82.50,344.27 83.30,344.14 84.10,344.00 84.90,343.87 85.70,343.73 86.50,343.59 87.30,343.44 88.10,343.30 88.90,343.16 89.70,343.01 90.50,342.86 91.30,342.71 92.10,342.56 92.90,342.41 93.70,342.25 94.50,342.10 95.30,341.94 96.10,341.78 96.90,341.62 97.70,341.46 98.50,341.30 99.30,341.13 100.10,340.97 100.90,340.80 101.70,340.63 102.50,340.46 103.30,340.29 104.10,340.12 104.90,339.94 105.70,339.77 106.50,339.59 107.30,339.41 108.10,339.23 108.90,339.05 109.70,338.87 110.50,338.68 111.30,338.50 112.10,338.31 112.90,338.13 113.70,337.94 114.50,337.75 115.30,337.55 116.10,337.36 116.90,337.17 117.70,336.97 118.50,336.77 119.30,336.58 120.10,336.38 120.90,336.18 121.70,335.97 122.50,335.77 123.30,335.57 124.10,335.36 124.90,335.15 125.70,334.94 126.50,334.73 127.30,334.52 128.10,334.31 128.90,334.10 129.70,333.88 130.50,333.66 131.30,333.45 132.10,333.23 132.90,333.01 133.70,332.79 134.50,332.56 135.30,332.34 136.10,332.12 136.90,331.89 137.70,331.66 138.50,331.43 139.30,331.21 140.10,330.97 140.90,330.74 141.70,330.51 142.50,330.28 143.30,330.04 144.10,329.81 144.90,329.57 145.70,329.33 146.50,329.09 147.30,328.85 148.10,328.61 148.90,328.37 149.70,328.13 150.50,327.88 151.30,327.64 152.10,327.39 152.90,327.15 153.70,326.90 154.50,326.65 155.30,326.40 156.10,326.15 156.90,325.91 157.70,325.65 158.50,325.40 159.30,325.15 160.10,324.90 160.90,324.65 161.70,324.40 162.50,324.14 163.30,323.89 164.10,323.63 164.90,323.38 165.70,323.13 166.50,322.87 167.30,322.62 168.10,322.36 168.90,322.11 169.70,321.85 170.50,321.60 171.30,321.34 172.10,321.09 172.90,320.84 173.70,320.58 174.50,320.33 175.30,320.08 176.10,319.82 176.90,319.57 177.70,319.32 178.50,319.07 179.30,318.82 180.10,318.57 180.90,318.32 181.70,318.08 182.50,317.83 183.30,317.59 184.10,317.34 184.90,317.10 185.70,316.86 186.50,316.62 187.30,316.39 188.10,316.15 188.90,315.92 189.70,315.68 190.50,315.45 191.30,315.23 192.10,315.00 192.90,314.78 193.70,314.56 194.50,314.34 195.30,314.12 196.10,313.91 196.90,313.70 197.70,313.49 198.50,313.29 199.30,313.09 200.10,312.89 200.90,312.70 201.70,312.51 202.50,312.32 203.30,312.14 204.10,311.96 204.90,311.79 205.70,311.62 206.50,311.45 207.30,311.29 208.10,311.13 208.90,310.98 209.70,310.84 210.50,310.69 211.30,310.56 212.10,310.43 212.90,310.30" fill="none" stroke="#44c8a0" stroke-width="1.1" stroke-linejoin="round"/>
<polyline points="45.70,348.00 46.50,348.00 47.30,348.00 48.10,348.00 48.90,348.00 49.70,347.97 50.50,347.94 51.30,347.90 52.10,347.86 52.90,347.81 53.70,347.77 54.50,347.72 55.30,347.66 56.10,347.61 56.90,347.55 57.70,347.49 58.50,347.43 59.30,347.36 60.10,347.29 60.90,347.22 61.70,347.14 62.50,347.07 63.30,346.99 64.10,346.91 64.90,346.83 65.70,346.74 66.50,346.65 67.30,346.56 68.10,346.47 68.90,346.38 69.70,346.28 70.50,346.18 71.30,346.08 72.10,345.98 72.90,345.88 73.70,345.77 74.50,345.67 75.30,345.56 76.10,345.45 76.90,345.33 77.70,345.22 78.50,345.10 79.30,344.99 80.10,344.87 80.90,344.75 81.70,344.62 82.50,344.50 83.30,344.37 84.10,344.24 84.90,344.12 85.70,343.99 86.50,343.85 87.30,343.72 88.10,343.59 88.90,343.45 89.70,343.31 90.50,343.17 91.30,343.03 92.10,342.89 92.90,342.75 93.70,342.60 94.50,342.45 95.30,342.31 96.10,342.16 96.90,342.01 97.70,341.86 98.50,341.70 99.30,341.55 100.10,341.39 100.90,341.24 101.70,341.08 102.50,340.92 103.30,340.76 104.10,340.59 104.90,340.43 105.70,340.27 106.50,340.10 107.30,339.93 108.10,339.76 108.90,339.59 109.70,339.42 110.50,339.25 111.30,339.08 112.10,338.90 112.90,338.72 113.70,338.55 114.50,338.37 115.30,338.19 116.10,338.01 116.90,337.82 117.70,337.64 118.50,337.46 119.30,337.27 120.10,337.08 120.90,336.89 121.70,336.70 122.50,336.51 123.30,336.32 124.10,336.13 124.90,335.93 125.70,335.73 126.50,335.54 127.30,335.34 128.10,335.14 128.90,334.94 129.70,334.74 130.50,334.53 131.30,334.33 132.10,334.12 132.90,333.92 133.70,333.71 134.50,333.50 135.30,333.29 136.10,333.08 136.90,332.87 137.70,332.65 138.50,332.44 139.30,332.22 140.10,332.01 140.90,331.79 141.70,331.57 142.50,331.35 143.30,331.13 144.10,330.91 144.90,330.69 145.70,330.46 146.50,330.24 147.30,330.01 148.10,329.79 148.90,329.56 149.70,329.33 150.50,329.10 151.30,328.87 152.10,328.64 152.90,328.41 153.70,328.18 154.50,327.95 155.30,327.71 156.10,327.48 156.90,327.24 157.70,327.01 158.50,326.77 159.30,326.54 160.10,326.30 160.90,326.06 161.70,325.83 162.50,325.59 163.30,325.35 164.10,325.11 164.90,324.87 165.70,324.63 166.50,324.39 167.30,324.16 168.10,323.92 168.90,323.68 169.70,323.44 170.50,323.20 171.30,322.96 172.10,322.72 172.90,322.48 173.70,322.24 174.50,322.01 175.30,321.77 176.10,321.53 176.90,321.29 177.70,321.06 178.50,320.82 179.30,320.59 180.10,320.36 180.90,320.12 181.70,319.89 182.50,319.66 183.30,319.43 184.10,319.20 184.90,318.97 185.70,318.75 186.50,318.52 187.30,318.30 188.10,318.08 188.90,317.86 189.70,317.64 190.50,317.43 191.30,317.21 192.10,317.00 192.90,316.79 193.70,316.58 194.50,316.38 195.30,316.18 196.10,315.98 196.90,315.78 197.70,315.59 198.50,315.39 199.30,315.21 200.10,315.02 200.90,314.84 201.70,314.66 202.50,314.48 203.30,314.31 204.10,314.15 204.90,313.98 205.70,313.82 206.50,313.67 207.30,313.51 208.10,313.37 208.90,313.23 209.70,313.09 210.50,312.96 211.30,312.83 212.10,312.71 212.90,312.59" fill="none" stroke="#58c850" stroke-width="1.1" stroke-linejoin="round"/>
<polyline points="45.70,348.00 46.50,348.00 47.30,348.00 48.10,348.00 48.90,348.00 49.70,347.97 50.50,347.94 51.30,347.91 52.10,347.87 52.90,347.83 53.70,347.79 54.50,347.74 55.30,347.69 56.10,347.64 56.90,347.59 57.70,347.53 58.50,347.47 59.30,347.41 60.10,347.35 60.90,347.28 61.70,347.21 62.50,347.14 63.30,347.07 64.10,347.00 64.90,346.92 65.70,346.84 66.50,346.76 67.30,346.68 68.10,346.60 68.90,346.51 69.70,346.42 70.50,346.33 71.30,346.24 72.10,346.15 72.90,346.05 73.70,345.95 74.50,345.85 75.30,345.75 76.10,345.65 76.90,345.55 77.70,345.44 78.50,345.34 79.30,345.23 80.10,345.12 80.90,345.01 81.70,344.89 82.50,344.78 83.30,344.66 84.10,344.55 84.90,344.43 85.70,344.31 86.50,344.19 87.30,344.07 88.10,343.94 88.90,343.82 89.70,343.69 90.50,343.56 91.30,343.43 92.10,343.30 92.90,343.17 93.70,343.04 94.50,342.90 95.30,342.77 96.10,342.63 96.90,342.49 97.70,342.35 98.50,342.21 99.30,342.07 100.10,341.93 100.90,341.78 101.70,341.64 102.50,341.49 103.30,341.34 104.10,341.19 104.90,341.04 105.70,340.89 106.50,340.74 107.30,340.58 108.10,340.43 108.90,340.27 109.70,340.11 110.50,339.96 111.30,339.80 112.10,339.63 112.90,339.47 113.70,339.31 114.50,339.14 115.30,338.98 116.10,338.81 116.90,338.64 117.70,338.48 118.50,338.31 119.30,338.13 120.10,337.96 120.90,337.79 121.70,337.61 122.50,337.44 123.30,337.26 124.10,337.08 124.90,336.90 125.70,336.72 126.50,336.54 127.30,336.36 128.10,336.18 128.90,335.99 129.70,335.81 130.50,335.62 131.30,335.43 132.10,335.24 132.90,335.05 133.70,334.86 134.50,334.67 135.30,334.48 136.10,334.28 136.90,334.09 137.70,333.89 138.50,333.69 139.30,333.50 140.10,333.30 140.90,333.10 141.70,332.90 142.50,332.69 143.30,332.49 144.10,332.29 144.90,332.08 145.70,331.88 146.50,331.67 147.30,331.46 148.10,331.25 148.90,331.05 149.70,330.84 150.50,330.63 151.30,330.41 152.10,330.20 152.90,329.99 153.70,329.78 154.50,329.56 155.30,329.35 156.10,329.13 156.90,328.92 157.70,328.70 158.50,328.49 159.30,328.27 160.10,328.05 160.90,327.83 161.70,327.61 162.50,327.40 163.30,327.18 164.10,326.96 164.90,326.74 165.70,326.52 166.50,326.30 167.30,326.08 168.10,325.86 168.90,325.64 169.70,325.42 170.50,325.20 171.30,324.98 172.10,324.76 172.90,324.54 173.70,324.32 174.50,324.10 175.30,323.88 176.10,323.67 176.90,323.45 177.70,323.23 178.50,323.02 179.30,322.80 180.10,322.58 180.90,322.37 181.70,322.16 182.50,321.95 183.30,321.73 184.10,321.52 184.90,321.32 185.70,321.11 186.50,320.90 187.30,320.70 188.10,320.49 188.90,320.29 189.70,320.09 190.50,319.89 191.30,319.70 192.10,319.50 192.90,319.31 193.70,319.12 194.50,318.93 195.30,318.74 196.10,318.56 196.90,318.38 197.70,318.20 198.50,318.02 199.30,317.85 200.10,317.68 200.90,317.51 201.70,317.35 202.50,317.19 203.30,317.03 204.10,316.88 204.90,316.72 205.70,316.58 206.50,316.43 207.30,316.30 208.10,316.16 208.90,316.03 209.70,315.90 210.50,315.78 211.30,315.66 212.10,315.55 212.90,315.44" fill="none" stroke="#88b028" stroke-width="1.1" stroke-linejoin="round"/>
<rect x="52.30" y="347.27" width="2.80" height="2.80" fill="none" stroke="#2233bb" stroke-width="1.0"/>
<rect x="60.30" y="343.03" width="2.80" height="2.80" fill="none" stroke="#2233bb" stroke-width="1.0"/>
<rect x="68.30" y="340.13" width="2.80" height="2.80" fill="none" stroke="#2233bb" stroke-width="1.0"/>
<rect x="76.30" y="337.00" width="2.80" height="2.80" fill="none" stroke="#2233bb" stroke-width="1.0"/>
<rect x="84.30" y="334.32" width="2.80" height="2.80" fill="none" stroke="#2233bb" stroke-width="1.0"/>
<rect x="92.30" y="329.86" width="2.80" height="2.80" fill="none" stroke="#2233bb" stroke-width="1.0"/>
<rect x="100.30" y="323.61" width="2.80" height="2.80" fill="none" stroke="#2233bb" stroke-width="1.0"/>
<rect x="108.30" y="318.92" width="2.80" height="2.80" fill="none" stroke="#2233bb" stroke-width="1.0"/>
<rect x="116.30" y="313.79" width="2.80" height="2.80" fill="none" stroke="#2233bb" stroke-width="1.0"/>
<rect x="124.30" y="307.32" width="2.80" height="2.80" fill="none" stroke="#2233bb" stroke-width="1.0"/>
<rect x="132.30" y="300.84" width="2.80" height="2.80" fill="none" stroke="#2233bb" stroke-width="1.0"/>
<rect x="140.30" y="294.15" width="2.80" height="2.80" fill="none" stroke="#2233bb" stroke-width="1.0"/>
<rect x="148.30" y="286.78" width="2.80" height="2.80" fill="none" stroke="#2233bb" stroke-width="1.0"/>
<rect x="156.30" y="278.97" width="2.80" height="2.80" fill="none" stroke="#2233bb" stroke-width="1.0"/>
<rect x="164.30" y="270.94" width="2.80" height="2.80" fill="none" stroke="#2233bb" stroke-width="1.0"/>
<rect x="172.30" y="266.02" width="2.80" height="2.80" fill="none" stroke="#2233bb" stroke-width="1.0"/>
<rect x="180.30" y="256.65" width="2.80" height="2.80" fill="none" stroke="#2233bb" stroke-width="1.0"/>
<rect x="188.30" y="249.73" width="2.80" height="2.80" fill="none" stroke="#2233bb" stroke-width="1.0"/>
<rect x="196.30" y="240.80" width="2.80" height="2.80" fill="none" stroke="#2233bb" stroke-width="1.0"/>
<rect x="204.30" y="230.98" width="2.80" height="2.80" fill="none" stroke="#2233bb" stroke-width="1.0"/>
<circle cx="53.70" cy="346.39" r="1.45" fill="none" stroke="#2a44cc" stroke-width="1.0"/>
<circle cx="61.70" cy="345.85" r="1.45" fill="none" stroke="#2a44cc" stroke-width="1.0"/>
<circle cx="69.70" cy="344.19" r="1.45" fill="none" stroke="#2a44cc" stroke-width="1.0"/>
<circle cx="77.70" cy="339.48" r="1.45" fill="none" stroke="#2a44cc" stroke-width="1.0"/>
<circle cx="85.70" cy="337.31" r="1.45" fill="none" stroke="#2a44cc" stroke-width="1.0"/>
<circle cx="93.70" cy="336.06" r="1.45" fill="none" stroke="#2a44cc" stroke-width="1.0"/>
<circle cx="101.70" cy="328.03" r="1.45" fill="none" stroke="#2a44cc" stroke-width="1.0"/>
<circle cx="109.70" cy="330.11" r="1.45" fill="none" stroke="#2a44cc" stroke-width="1.0"/>
<circle cx="117.70" cy="322.83" r="1.45" fill="none" stroke="#2a44cc" stroke-width="1.0"/>
<circle cx="125.70" cy="320.34" r="1.45" fill="none" stroke="#2a44cc" stroke-width="1.0"/>
<circle cx="133.70" cy="315.05" r="1.45" fill="none" stroke="#2a44cc" stroke-width="1.0"/>
<circle cx="141.70" cy="309.16" r="1.45" fill="none" stroke="#2a44cc" stroke-width="1.0"/>
<circle cx="149.70" cy="304.85" r="1.45" fill="none" stroke="#2a44cc" stroke-width="1.0"/>
<circle cx="157.70" cy="298.76" r="1.45" fill="none" stroke="#2a44cc" stroke-width="1.0"/>
<circle cx="165.70" cy="297.35" r="1.45" fill="none" stroke="#2a44cc" stroke-width="1.0"/>
<circle cx="173.70" cy="291.92" r="1.45" fill="none" stroke="#2a44cc" stroke-width="1.0"/>
<circle cx="181.70" cy="282.40" r="1.45" fill="none" stroke="#2a44cc" stroke-width="1.0"/>
<circle cx="189.70" cy="280.43" r="1.45" fill="none" stroke="#2a44cc" stroke-width="1.0"/>
<circle cx="197.70" cy="275.90" r="1.45" fill="none" stroke="#2a44cc" stroke-width="1.0"/>
<circle cx="205.70" cy="272.84" r="1.45" fill="none" stroke="#2a44cc" stroke-width="1.0"/>
<polygon points="53.70,343.76 55.70,347.22 51.71,347.22" fill="none" stroke="#3a6ad8" stroke-width="0.9" stroke-linejoin="miter"/>
<polygon points="61.70,343.27 63.70,346.74 59.71,346.74" fill="none" stroke="#3a6ad8" stroke-width="0.9" stroke-linejoin="miter"/>
<polygon points="69.70,340.64 71.70,344.10 67.70,344.10" fill="none" stroke="#3a6ad8" stroke-width="0.9" stroke-linejoin="miter"/>
<polygon points="77.70,341.96 79.70,345.42 75.70,345.42" fill="none" stroke="#3a6ad8" stroke-width="0.9" stroke-linejoin="miter"/>
<polygon points="85.70,338.32 87.70,341.79 83.70,341.79" fill="none" stroke="#3a6ad8" stroke-width="0.9" stroke-linejoin="miter"/>
<polygon points="93.70,337.35 95.70,340.82 91.70,340.82" fill="none" stroke="#3a6ad8" stroke-width="0.9" stroke-linejoin="miter"/>
<polygon points="101.70,331.71 103.70,335.17 99.70,335.17" fill="none" stroke="#3a6ad8" stroke-width="0.9" stroke-linejoin="miter"/>
<polygon points="109.70,327.33 111.70,330.79 107.70,330.79" fill="none" stroke="#3a6ad8" stroke-width="0.9" stroke-linejoin="miter"/>
<polygon points="117.70,327.72 119.70,331.18 115.70,331.18" fill="none" stroke="#3a6ad8" stroke-width="0.9" stroke-linejoin="miter"/>
<polygon points="125.70,320.30 127.70,323.77 123.70,323.77" fill="none" stroke="#3a6ad8" stroke-width="0.9" stroke-linejoin="miter"/>
<polygon points="133.70,317.34 135.69,320.81 131.70,320.81" fill="none" stroke="#3a6ad8" stroke-width="0.9" stroke-linejoin="miter"/>
<polygon points="141.70,315.19 143.69,318.65 139.70,318.65" fill="none" stroke="#3a6ad8" stroke-width="0.9" stroke-linejoin="miter"/>
<polygon points="149.70,314.00 151.69,317.47 147.70,317.47" fill="none" stroke="#3a6ad8" stroke-width="0.9" stroke-linejoin="miter"/>
<polygon points="157.70,303.85 159.69,307.31 155.70,307.31" fill="none" stroke="#3a6ad8" stroke-width="0.9" stroke-linejoin="miter"/>
<polygon points="165.70,301.98 167.69,305.44 163.70,305.44" fill="none" stroke="#3a6ad8" stroke-width="0.9" stroke-linejoin="miter"/>
<polygon points="173.70,298.40 175.69,301.86 171.70,301.86" fill="none" stroke="#3a6ad8" stroke-width="0.9" stroke-linejoin="miter"/>
<polygon points="181.70,292.11 183.69,295.57 179.70,295.57" fill="none" stroke="#3a6ad8" stroke-width="0.9" stroke-linejoin="miter"/>
<polygon points="189.70,287.83 191.69,291.29 187.70,291.29" fill="none" stroke="#3a6ad8" stroke-width="0.9" stroke-linejoin="miter"/>
<polygon points="197.70,281.81 199.69,285.27 195.70,285.27" fill="none" stroke="#3a6ad8" stroke-width="0.9" stroke-linejoin="miter"/>
<polygon points="205.70,283.43 207.69,286.89 203.70,286.89" fill="none" stroke="#3a6ad8" stroke-width="0.9" stroke-linejoin="miter"/>
<polygon points="53.70,348.22 55.70,344.76 51.71,344.76" fill="none" stroke="#3a98dc" stroke-width="0.9" stroke-linejoin="miter"/>
<polygon points="61.70,346.81 63.70,343.34 59.71,343.34" fill="none" stroke="#3a98dc" stroke-width="0.9" stroke-linejoin="miter"/>
<polygon points="69.70,345.54 71.70,342.08 67.70,342.08" fill="none" stroke="#3a98dc" stroke-width="0.9" stroke-linejoin="miter"/>
<polygon points="77.70,346.18 79.70,342.71 75.70,342.71" fill="none" stroke="#3a98dc" stroke-width="0.9" stroke-linejoin="miter"/>
<polygon points="85.70,345.12 87.70,341.65 83.70,341.65" fill="none" stroke="#3a98dc" stroke-width="0.9" stroke-linejoin="miter"/>
<polygon points="93.70,340.55 95.70,337.09 91.70,337.09" fill="none" stroke="#3a98dc" stroke-width="0.9" stroke-linejoin="miter"/>
<polygon points="101.70,339.55 103.70,336.08 99.70,336.08" fill="none" stroke="#3a98dc" stroke-width="0.9" stroke-linejoin="miter"/>
<polygon points="109.70,337.05 111.70,333.59 107.70,333.59" fill="none" stroke="#3a98dc" stroke-width="0.9" stroke-linejoin="miter"/>
<polygon points="117.70,332.43 119.70,328.97 115.70,328.97" fill="none" stroke="#3a98dc" stroke-width="0.9" stroke-linejoin="miter"/>
<polygon points="125.70,332.10 127.70,328.64 123.70,328.64" fill="none" stroke="#3a98dc" stroke-width="0.9" stroke-linejoin="miter"/>
<polygon points="133.70,332.23 135.69,328.77 131.70,328.77" fill="none" stroke="#3a98dc" stroke-width="0.9" stroke-linejoin="miter"/>
<polygon points="141.70,326.07 143.69,322.60 139.70,322.60" fill="none" stroke="#3a98dc" stroke-width="0.9" stroke-linejoin="miter"/>
<polygon points="149.70,325.10 151.69,321.63 147.70,321.63" fill="none" stroke="#3a98dc" stroke-width="0.9" stroke-linejoin="miter"/>
<polygon points="157.70,317.26 159.69,313.79 155.70,313.79" fill="none" stroke="#3a98dc" stroke-width="0.9" stroke-linejoin="miter"/>
<polygon points="165.70,314.51 167.69,311.05 163.70,311.05" fill="none" stroke="#3a98dc" stroke-width="0.9" stroke-linejoin="miter"/>
<polygon points="173.70,312.52 175.69,309.05 171.70,309.05" fill="none" stroke="#3a98dc" stroke-width="0.9" stroke-linejoin="miter"/>
<polygon points="181.70,307.95 183.69,304.49 179.70,304.49" fill="none" stroke="#3a98dc" stroke-width="0.9" stroke-linejoin="miter"/>
<polygon points="189.70,303.07 191.69,299.61 187.70,299.61" fill="none" stroke="#3a98dc" stroke-width="0.9" stroke-linejoin="miter"/>
<polygon points="197.70,301.33 199.69,297.87 195.70,297.87" fill="none" stroke="#3a98dc" stroke-width="0.9" stroke-linejoin="miter"/>
<polygon points="205.70,296.38 207.69,292.91 203.70,292.91" fill="none" stroke="#3a98dc" stroke-width="0.9" stroke-linejoin="miter"/>
<polygon points="53.70,345.77 55.70,347.77 53.70,349.77 51.70,347.77" fill="none" stroke="#44ccea" stroke-width="0.9" stroke-linejoin="miter"/>
<polygon points="61.70,343.45 63.70,345.45 61.70,347.45 59.70,345.45" fill="none" stroke="#44ccea" stroke-width="0.9" stroke-linejoin="miter"/>
<polygon points="69.70,341.67 71.70,343.67 69.70,345.67 67.70,343.67" fill="none" stroke="#44ccea" stroke-width="0.9" stroke-linejoin="miter"/>
<polygon points="77.70,340.06 79.70,342.06 77.70,344.06 75.70,342.06" fill="none" stroke="#44ccea" stroke-width="0.9" stroke-linejoin="miter"/>
<polygon points="85.70,341.56 87.70,343.56 85.70,345.56 83.70,343.56" fill="none" stroke="#44ccea" stroke-width="0.9" stroke-linejoin="miter"/>
<polygon points="93.70,337.53 95.70,339.53 93.70,341.53 91.70,339.53" fill="none" stroke="#44ccea" stroke-width="0.9" stroke-linejoin="miter"/>
<polygon points="101.70,339.42 103.70,341.42 101.70,343.42 99.70,341.42" fill="none" stroke="#44ccea" stroke-width="0.9" stroke-linejoin="miter"/>
<polygon points="109.70,336.09 111.70,338.09 109.70,340.09 107.70,338.09" fill="none" stroke="#44ccea" stroke-width="0.9" stroke-linejoin="miter"/>
<polygon points="117.70,335.03 119.70,337.03 117.70,339.03 115.70,337.03" fill="none" stroke="#44ccea" stroke-width="0.9" stroke-linejoin="miter"/>
<polygon points="125.70,327.97 127.70,329.97 125.70,331.97 123.70,329.97" fill="none" stroke="#44ccea" stroke-width="0.9" stroke-linejoin="miter"/>
<polygon points="133.70,328.75 135.70,330.75 133.70,332.75 131.70,330.75" fill="none" stroke="#44ccea" stroke-width="0.9" stroke-linejoin="miter"/>
<polygon points="141.70,324.03 143.70,326.03 141.70,328.03 139.70,326.03" fill="none" stroke="#44ccea" stroke-width="0.9" stroke-linejoin="miter"/>
<polygon points="149.70,321.31 151.70,323.31 149.70,325.31 147.70,323.31" fill="none" stroke="#44ccea" stroke-width="0.9" stroke-linejoin="miter"/>
<polygon points="157.70,317.95 159.70,319.95 157.70,321.95 155.70,319.95" fill="none" stroke="#44ccea" stroke-width="0.9" stroke-linejoin="miter"/>
<polygon points="165.70,315.70 167.70,317.70 165.70,319.70 163.70,317.70" fill="none" stroke="#44ccea" stroke-width="0.9" stroke-linejoin="miter"/>
<polygon points="173.70,311.13 175.70,313.13 173.70,315.13 171.70,313.13" fill="none" stroke="#44ccea" stroke-width="0.9" stroke-linejoin="miter"/>
<polygon points="181.70,305.30 183.70,307.30 181.70,309.30 179.70,307.30" fill="none" stroke="#44ccea" stroke-width="0.9" stroke-linejoin="miter"/>
<polygon points="189.70,305.28 191.70,307.28 189.70,309.28 187.70,307.28" fill="none" stroke="#44ccea" stroke-width="0.9" stroke-linejoin="miter"/>
<polygon points="197.70,301.66 199.70,303.66 197.70,305.66 195.70,303.66" fill="none" stroke="#44ccea" stroke-width="0.9" stroke-linejoin="miter"/>
<polygon points="205.70,298.45 207.70,300.45 205.70,302.45 203.70,300.45" fill="none" stroke="#44ccea" stroke-width="0.9" stroke-linejoin="miter"/>
<polygon points="51.60,348.02 55.07,346.02 55.07,350.01" fill="none" stroke="#44c8a0" stroke-width="0.9" stroke-linejoin="miter"/>
<polygon points="59.60,348.79 63.07,346.79 63.07,350.78" fill="none" stroke="#44c8a0" stroke-width="0.9" stroke-linejoin="miter"/>
<polygon points="67.60,346.93 71.06,344.93 71.06,348.92" fill="none" stroke="#44c8a0" stroke-width="0.9" stroke-linejoin="miter"/>
<polygon points="75.60,343.57 79.06,341.58 79.06,345.57" fill="none" stroke="#44c8a0" stroke-width="0.9" stroke-linejoin="miter"/>
<polygon points="83.60,346.00 87.06,344.01 87.06,348.00" fill="none" stroke="#44c8a0" stroke-width="0.9" stroke-linejoin="miter"/>
<polygon points="91.60,343.09 95.06,341.09 95.06,345.08" fill="none" stroke="#44c8a0" stroke-width="0.9" stroke-linejoin="miter"/>
<polygon points="99.60,339.21 103.06,337.21 103.06,341.20" fill="none" stroke="#44c8a0" stroke-width="0.9" stroke-linejoin="miter"/>
<polygon points="107.60,337.73 111.06,335.74 111.06,339.73" fill="none" stroke="#44c8a0" stroke-width="0.9" stroke-linejoin="miter"/>
<polygon points="115.60,336.96 119.06,334.97 119.06,338.96" fill="none" stroke="#44c8a0" stroke-width="0.9" stroke-linejoin="miter"/>
<polygon points="123.60,333.76 127.06,331.76 127.06,335.75" fill="none" stroke="#44c8a0" stroke-width="0.9" stroke-linejoin="miter"/>
<polygon points="131.60,332.54 135.06,330.54 135.06,334.53" fill="none" stroke="#44c8a0" stroke-width="0.9" stroke-linejoin="miter"/>
<polygon points="139.60,332.30 143.06,330.30 143.06,334.29" fill="none" stroke="#44c8a0" stroke-width="0.9" stroke-linejoin="miter"/>
<polygon points="147.60,330.53 151.06,328.54 151.06,332.53" fill="none" stroke="#44c8a0" stroke-width="0.9" stroke-linejoin="miter"/>
<polygon points="155.60,326.65 159.06,324.66 159.06,328.65" fill="none" stroke="#44c8a0" stroke-width="0.9" stroke-linejoin="miter"/>
<polygon points="163.60,321.66 167.06,319.67 167.06,323.66" fill="none" stroke="#44c8a0" stroke-width="0.9" stroke-linejoin="miter"/>
<polygon points="171.60,321.49 175.06,319.50 175.06,323.49" fill="none" stroke="#44c8a0" stroke-width="0.9" stroke-linejoin="miter"/>
<polygon points="179.60,319.56 183.06,317.56 183.06,321.55" fill="none" stroke="#44c8a0" stroke-width="0.9" stroke-linejoin="miter"/>
<polygon points="187.60,316.97 191.06,314.97 191.06,318.96" fill="none" stroke="#44c8a0" stroke-width="0.9" stroke-linejoin="miter"/>
<polygon points="195.60,316.07 199.06,314.08 199.06,318.07" fill="none" stroke="#44c8a0" stroke-width="0.9" stroke-linejoin="miter"/>
<polygon points="203.60,311.82 207.06,309.82 207.06,313.81" fill="none" stroke="#44c8a0" stroke-width="0.9" stroke-linejoin="miter"/>
<polygon points="55.80,349.35 52.34,347.35 52.34,351.34" fill="none" stroke="#58c850" stroke-width="0.9" stroke-linejoin="miter"/>
<polygon points="63.80,346.65 60.34,344.66 60.34,348.65" fill="none" stroke="#58c850" stroke-width="0.9" stroke-linejoin="miter"/>
<polygon points="71.80,349.48 68.34,347.49 68.34,351.48" fill="none" stroke="#58c850" stroke-width="0.9" stroke-linejoin="miter"/>
<polygon points="79.80,344.77 76.34,342.78 76.34,346.77" fill="none" stroke="#58c850" stroke-width="0.9" stroke-linejoin="miter"/>
<polygon points="87.80,344.87 84.34,342.88 84.34,346.87" fill="none" stroke="#58c850" stroke-width="0.9" stroke-linejoin="miter"/>
<polygon points="95.80,345.31 92.34,343.31 92.34,347.30" fill="none" stroke="#58c850" stroke-width="0.9" stroke-linejoin="miter"/>
<polygon points="103.80,340.06 100.34,338.06 100.34,342.05" fill="none" stroke="#58c850" stroke-width="0.9" stroke-linejoin="miter"/>
<polygon points="111.80,339.81 108.34,337.82 108.34,341.81" fill="none" stroke="#58c850" stroke-width="0.9" stroke-linejoin="miter"/>
<polygon points="119.80,340.86 116.34,338.86 116.34,342.85" fill="none" stroke="#58c850" stroke-width="0.9" stroke-linejoin="miter"/>
<polygon points="127.80,337.01 124.34,335.02 124.34,339.01" fill="none" stroke="#58c850" stroke-width="0.9" stroke-linejoin="miter"/>
<polygon points="135.80,333.28 132.33,331.28 132.33,335.27" fill="none" stroke="#58c850" stroke-width="0.9" stroke-linejoin="miter"/>
<polygon points="143.80,332.26 140.33,330.26 140.33,334.25" fill="none" stroke="#58c850" stroke-width="0.9" stroke-linejoin="miter"/>
<polygon points="151.80,328.14 148.33,326.15 148.33,330.14" fill="none" stroke="#58c850" stroke-width="0.9" stroke-linejoin="miter"/>
<polygon points="159.80,325.85 156.33,323.86 156.33,327.85" fill="none" stroke="#58c850" stroke-width="0.9" stroke-linejoin="miter"/>
<polygon points="167.80,323.59 164.33,321.59 164.33,325.58" fill="none" stroke="#58c850" stroke-width="0.9" stroke-linejoin="miter"/>
<polygon points="175.80,321.72 172.33,319.73 172.33,323.72" fill="none" stroke="#58c850" stroke-width="0.9" stroke-linejoin="miter"/>
<polygon points="183.80,317.73 180.33,315.73 180.33,319.72" fill="none" stroke="#58c850" stroke-width="0.9" stroke-linejoin="miter"/>
<polygon points="191.80,316.56 188.33,314.56 188.33,318.55" fill="none" stroke="#58c850" stroke-width="0.9" stroke-linejoin="miter"/>
<polygon points="199.80,314.83 196.33,312.84 196.33,316.83" fill="none" stroke="#58c850" stroke-width="0.9" stroke-linejoin="miter"/>
<polygon points="207.80,317.32 204.33,315.33 204.33,319.32" fill="none" stroke="#58c850" stroke-width="0.9" stroke-linejoin="miter"/>
<polygon points="55.30,346.58 54.50,347.97 52.90,347.97 52.10,346.58 52.90,345.20 54.50,345.20" fill="none" stroke="#88b028" stroke-width="1.0"/>
<polygon points="63.30,345.45 62.50,346.84 60.90,346.84 60.10,345.45 60.90,344.06 62.50,344.06" fill="none" stroke="#88b028" stroke-width="1.0"/>
<polygon points="71.30,346.82 70.50,348.21 68.90,348.21 68.10,346.82 68.90,345.44 70.50,345.44" fill="none" stroke="#88b028" stroke-width="1.0"/>
<polygon points="79.30,346.08 78.50,347.47 76.90,347.47 76.10,346.08 76.90,344.70 78.50,344.70" fill="none" stroke="#88b028" stroke-width="1.0"/>
<polygon points="87.30,341.64 86.50,343.02 84.90,343.02 84.10,341.64 84.90,340.25 86.50,340.25" fill="none" stroke="#88b028" stroke-width="1.0"/>
<polygon points="95.30,345.48 94.50,346.86 92.90,346.86 92.10,345.48 92.90,344.09 94.50,344.09" fill="none" stroke="#88b028" stroke-width="1.0"/>
<polygon points="103.30,340.98 102.50,342.36 100.90,342.36 100.10,340.98 100.90,339.59 102.50,339.59" fill="none" stroke="#88b028" stroke-width="1.0"/>
<polygon points="111.30,336.68 110.50,338.06 108.90,338.06 108.10,336.68 108.90,335.29 110.50,335.29" fill="none" stroke="#88b028" stroke-width="1.0"/>
<polygon points="119.30,339.81 118.50,341.19 116.90,341.19 116.10,339.81 116.90,338.42 118.50,338.42" fill="none" stroke="#88b028" stroke-width="1.0"/>
<polygon points="127.30,335.72 126.50,337.11 124.90,337.11 124.10,335.72 124.90,334.34 126.50,334.34" fill="none" stroke="#88b028" stroke-width="1.0"/>
<polygon points="135.30,332.09 134.50,333.47 132.90,333.47 132.10,332.09 132.90,330.70 134.50,330.70" fill="none" stroke="#88b028" stroke-width="1.0"/>
<polygon points="143.30,333.07 142.50,334.46 140.90,334.46 140.10,333.07 140.90,331.69 142.50,331.69" fill="none" stroke="#88b028" stroke-width="1.0"/>
<polygon points="151.30,329.99 150.50,331.37 148.90,331.37 148.10,329.99 148.90,328.60 150.50,328.60" fill="none" stroke="#88b028" stroke-width="1.0"/>
<polygon points="159.30,327.32 158.50,328.70 156.90,328.70 156.10,327.32 156.90,325.93 158.50,325.93" fill="none" stroke="#88b028" stroke-width="1.0"/>
<polygon points="167.30,327.93 166.50,329.31 164.90,329.31 164.10,327.93 164.90,326.54 166.50,326.54" fill="none" stroke="#88b028" stroke-width="1.0"/>
<polygon points="175.30,324.46 174.50,325.85 172.90,325.85 172.10,324.46 172.90,323.08 174.50,323.08" fill="none" stroke="#88b028" stroke-width="1.0"/>
<polygon points="183.30,321.69 182.50,323.08 180.90,323.08 180.10,321.69 180.90,320.30 182.50,320.30" fill="none" stroke="#88b028" stroke-width="1.0"/>
<polygon points="191.30,318.76 190.50,320.14 188.90,320.14 188.10,318.76 188.90,317.37 190.50,317.37" fill="none" stroke="#88b028" stroke-width="1.0"/>
<polygon points="199.30,318.26 198.50,319.64 196.90,319.64 196.10,318.26 196.90,316.87 198.50,316.87" fill="none" stroke="#88b028" stroke-width="1.0"/>
<polygon points="207.30,316.90 206.50,318.29 204.90,318.29 204.10,316.90 204.90,315.52 206.50,315.52" fill="none" stroke="#88b028" stroke-width="1.0"/>
<rect x="45.60" y="225.40" width="167.50" height="126.90" fill="none" stroke="#747474" stroke-width="1"/>
<line x1="45.70" y1="352.30" x2="45.70" y2="354.30" stroke="#747474" stroke-width="1" />
<line x1="61.70" y1="352.30" x2="61.70" y2="353.50" stroke="#747474" stroke-width="1" />
<line x1="77.70" y1="352.30" x2="77.70" y2="354.30" stroke="#747474" stroke-width="1" />
<line x1="93.70" y1="352.30" x2="93.70" y2="353.50" stroke="#747474" stroke-width="1" />
<line x1="109.70" y1="352.30" x2="109.70" y2="354.30" stroke="#747474" stroke-width="1" />
<line x1="125.70" y1="352.30" x2="125.70" y2="353.50" stroke="#747474" stroke-width="1" />
<line x1="141.70" y1="352.30" x2="141.70" y2="354.30" stroke="#747474" stroke-width="1" />
<line x1="157.70" y1="352.30" x2="157.70" y2="353.50" stroke="#747474" stroke-width="1" />
<line x1="173.70" y1="352.30" x2="173.70" y2="354.30" stroke="#747474" stroke-width="1" />
<line x1="189.70" y1="352.30" x2="189.70" y2="353.50" stroke="#747474" stroke-width="1" />
<line x1="205.70" y1="352.30" x2="205.70" y2="354.30" stroke="#747474" stroke-width="1" />
<line x1="45.60" y1="348.00" x2="43.60" y2="348.00" stroke="#747474" stroke-width="1" />
<line x1="45.60" y1="336.84" x2="44.40" y2="336.84" stroke="#747474" stroke-width="1" />
<line x1="45.60" y1="325.68" x2="43.60" y2="325.68" stroke="#747474" stroke-width="1" />
<line x1="45.60" y1="314.52" x2="44.40" y2="314.52" stroke="#747474" stroke-width="1" />
<line x1="45.60" y1="303.36" x2="43.60" y2="303.36" stroke="#747474" stroke-width="1" />
<line x1="45.60" y1="292.20" x2="44.40" y2="292.20" stroke="#747474" stroke-width="1" />
<line x1="45.60" y1="281.04" x2="43.60" y2="281.04" stroke="#747474" stroke-width="1" />
<line x1="45.60" y1="269.88" x2="44.40" y2="269.88" stroke="#747474" stroke-width="1" />
<line x1="45.60" y1="258.72" x2="43.60" y2="258.72" stroke="#747474" stroke-width="1" />
<line x1="45.60" y1="247.56" x2="44.40" y2="247.56" stroke="#747474" stroke-width="1" />
<line x1="45.60" y1="236.40" x2="43.60" y2="236.40" stroke="#747474" stroke-width="1" />
<text transform="translate(45.70 361.99) scale(0.8929 1)" font-size="7.95" text-anchor="middle" fill="#2a2a2a" >0</text>
<text transform="translate(77.70 361.99) scale(0.8929 1)" font-size="7.95" text-anchor="middle" fill="#2a2a2a" >20</text>
<text transform="translate(109.70 361.99) scale(0.8929 1)" font-size="7.95" text-anchor="middle" fill="#2a2a2a" >40</text>
<text transform="translate(141.70 361.99) scale(0.8929 1)" font-size="7.95" text-anchor="middle" fill="#2a2a2a" >60</text>
<text transform="translate(173.70 361.99) scale(0.8929 1)" font-size="7.95" text-anchor="middle" fill="#2a2a2a" >80</text>
<text transform="translate(205.70 361.99) scale(0.8929 1)" font-size="7.95" text-anchor="middle" fill="#2a2a2a" >100</text>
<text transform="translate(42.10 350.29) scale(0.8929 1)" font-size="7.95" text-anchor="end" fill="#2a2a2a" >0</text>
<text transform="translate(42.10 327.97) scale(0.8929 1)" font-size="7.95" text-anchor="end" fill="#2a2a2a" >10</text>
<text transform="translate(42.10 305.65) scale(0.8929 1)" font-size="7.95" text-anchor="end" fill="#2a2a2a" >20</text>
<text transform="translate(42.10 283.32) scale(0.8929 1)" font-size="7.95" text-anchor="end" fill="#2a2a2a" >30</text>
<text transform="translate(42.10 261.01) scale(0.8929 1)" font-size="7.95" text-anchor="end" fill="#2a2a2a" >40</text>
<text transform="translate(42.10 238.68) scale(0.8929 1)" font-size="7.95" text-anchor="end" fill="#2a2a2a" >50</text>
<text transform="translate(129.20 374.81) scale(0.8929 1)" font-size="9.18" text-anchor="middle" fill="#2a2a2a" >Electrode Frequency (kHz)</text>
<text transform="translate(27.72 286.00) rotate(-90) scale(0.8929 1)" font-size="8.51" text-anchor="middle" fill="#2a2a2a"><tspan font-style="italic">Δf/f</tspan><tspan font-size="5.60" dy="1.6">0</tspan><tspan dy="-1.6"> (x10</tspan><tspan font-size="5.60" dy="-2.8">-6</tspan><tspan dy="2.8">)</tspan></text>
<rect x="54.90" y="230.50" width="2.80" height="2.80" fill="none" stroke="#2233bb" stroke-width="1.0"/>
<text x="67.30" y="234.56" font-size="7.6" text-anchor="start" fill="#2a2a2a" class="ns">0.1 M</text>
<circle cx="56.30" cy="241.32" r="1.45" fill="none" stroke="#2a44cc" stroke-width="1.0"/>
<text x="67.30" y="243.98" font-size="7.6" text-anchor="start" fill="#2a2a2a" class="ns">0.2 M</text>
<polygon points="56.30,248.64 58.29,252.11 54.30,252.11" fill="none" stroke="#3a6ad8" stroke-width="0.9" stroke-linejoin="miter"/>
<text x="67.30" y="253.40" font-size="7.6" text-anchor="start" fill="#2a2a2a" class="ns">0.3 M</text>
<polygon points="56.30,262.26 58.29,258.80 54.30,258.80" fill="none" stroke="#3a98dc" stroke-width="0.9" stroke-linejoin="miter"/>
<text x="67.30" y="262.82" font-size="7.6" text-anchor="start" fill="#2a2a2a" class="ns">0.4 M</text>
<polygon points="56.30,267.58 58.30,269.58 56.30,271.58 54.30,269.58" fill="none" stroke="#44ccea" stroke-width="0.9" stroke-linejoin="miter"/>
<text x="67.30" y="272.24" font-size="7.6" text-anchor="start" fill="#2a2a2a" class="ns">0.5 M</text>
<polygon points="54.20,279.00 57.66,277.00 57.66,281.00" fill="none" stroke="#44c8a0" stroke-width="0.9" stroke-linejoin="miter"/>
<text x="67.30" y="281.66" font-size="7.6" text-anchor="start" fill="#2a2a2a" class="ns">0.6 M</text>
<polygon points="58.40,288.42 54.93,286.43 54.93,290.42" fill="none" stroke="#58c850" stroke-width="0.9" stroke-linejoin="miter"/>
<text x="67.30" y="291.08" font-size="7.6" text-anchor="start" fill="#2a2a2a" class="ns">0.7 M</text>
<polygon points="57.90,297.84 57.10,299.23 55.50,299.23 54.70,297.84 55.50,296.45 57.10,296.45" fill="none" stroke="#88b028" stroke-width="1.0"/>
<text x="67.30" y="300.50" font-size="7.6" text-anchor="start" fill="#2a2a2a" class="ns">0.9 M</text>
<polyline points="282.00,339.61 282.48,339.87 282.96,340.14 283.44,340.40 283.91,340.66 284.39,340.91 284.87,341.16 285.35,341.41 285.83,341.66 286.31,341.90 286.79,342.13 287.26,342.37 287.74,342.60 288.22,342.82 288.70,343.05 289.18,343.27 289.66,343.48 290.13,343.69 290.61,343.90 291.09,344.11 291.57,344.31 292.05,344.51 292.53,344.70 293.01,344.89 293.48,345.08 293.96,345.27 294.44,345.45 294.92,345.62 295.40,345.80 295.88,345.97 296.36,346.13 296.83,346.30 297.31,346.46 297.79,346.61 298.27,346.76 298.75,346.91 299.23,347.06 299.70,347.20 300.18,347.34 300.66,347.47 301.14,347.60 301.62,347.73 302.10,347.86 302.58,347.98 303.05,348.09 303.53,348.21 304.01,348.32 304.49,348.42 304.97,348.53 305.45,348.63 305.93,348.72 306.40,348.81 306.88,348.90 307.36,348.99 307.84,349.07 308.32,349.15 308.80,349.22 309.27,349.29 309.75,349.36 310.23,349.43 310.71,349.49 311.19,349.54 311.67,349.60 312.15,349.65 312.62,349.69 313.10,349.74 313.58,349.78 314.06,349.81 314.54,349.85 315.02,349.87 315.50,349.90 315.97,349.92 316.45,349.94 316.93,349.96 317.41,349.97 317.89,349.97 318.37,349.98 318.84,349.98 319.32,349.98 319.80,349.97 320.28,349.96 320.76,349.95 321.24,349.93 321.72,349.91 322.19,349.89 322.67,349.86 323.15,349.83 323.63,349.79 324.11,349.76 324.59,349.71 325.06,349.67 325.54,349.62 326.02,349.57 326.50,349.51 326.98,349.45 327.46,349.39 327.94,349.32 328.41,349.25 328.89,349.18 329.37,349.10 329.85,349.02 330.33,348.94 330.81,348.85 331.29,348.76 331.76,348.67 332.24,348.57 332.72,348.47 333.20,348.36 333.68,348.25 334.16,348.14 334.63,348.03 335.11,347.91 335.59,347.78 336.07,347.66 336.55,347.53 337.03,347.40 337.51,347.26 337.98,347.12 338.46,346.98 338.94,346.83 339.42,346.68 339.90,346.52 340.38,346.36 340.86,346.20 341.33,346.04 341.81,345.87 342.29,345.70 342.77,345.52 343.25,345.34 343.73,345.16 344.21,344.97 344.68,344.79 345.16,344.59 345.64,344.40 346.12,344.20 346.60,343.99 347.08,343.78 347.55,343.57 348.03,343.36 348.51,343.14 348.99,342.92 349.47,342.69 349.95,342.47 350.43,342.23 350.90,342.00 351.38,341.76 351.86,341.52 352.34,341.27 352.82,341.02 353.30,340.77 353.77,340.51 354.25,340.25 354.73,339.99 355.21,339.72 355.69,339.45 356.17,339.18 356.65,338.90 357.12,338.62 357.60,338.33 358.08,338.04 358.56,337.75 359.04,337.46 359.52,337.16 360.00,336.86 360.47,336.55 360.95,336.24 361.43,335.93 361.91,335.61 362.39,335.29 362.87,334.97 363.35,334.64 363.82,334.31 364.30,333.98 364.78,333.64 365.26,333.30 365.74,332.95 366.22,332.60 366.69,332.25 367.17,331.90 367.65,331.54 368.13,331.18 368.61,330.81 369.09,330.44 369.57,330.07 370.04,329.69 370.52,329.31 371.00,328.93 371.48,328.54 371.96,328.15 372.44,327.76 372.92,327.36 373.39,326.96 373.87,326.55 374.35,326.14 374.83,325.73 375.31,325.32 375.79,324.90 376.26,324.48 376.74,324.05 377.22,323.62 377.70,323.19 378.18,322.75 378.66,322.31 379.14,321.87 379.61,321.42 380.09,320.97 380.57,320.52 381.05,320.06 381.53,319.60 382.01,319.13 382.49,318.67 382.96,318.19 383.44,317.72 383.92,317.24 384.40,316.76 384.88,316.27 385.36,315.78 385.83,315.29 386.31,314.79 386.79,314.29 387.27,313.79 387.75,313.28 388.23,312.77 388.71,312.26 389.18,311.74 389.66,311.22 390.14,310.70 390.62,310.17 391.10,309.64 391.58,309.10 392.06,308.56 392.53,308.02 393.01,307.47 393.49,306.93 393.97,306.37 394.45,305.82 394.93,305.26 395.40,304.69 395.88,304.13 396.36,303.56 396.84,302.98 397.32,302.40 397.80,301.82 398.28,301.24 398.75,300.65 399.23,300.06 399.71,299.46 400.19,298.87 400.67,298.26 401.15,297.66 401.62,297.05 402.10,296.44 402.58,295.82 403.06,295.20 403.54,294.58 404.02,293.95 404.50,293.32 404.97,292.69 405.45,292.05 405.93,291.41 406.41,290.76 406.89,290.12 407.37,289.46 407.85,288.81 408.32,288.15 408.80,287.49 409.28,286.82 409.76,286.15 410.24,285.48 410.72,284.81 411.19,284.13 411.67,283.44 412.15,282.76 412.63,282.07 413.11,281.37 413.59,280.68 414.07,279.97 414.54,279.27 415.02,278.56 415.50,277.85 415.98,277.14 416.46,276.42 416.94,275.70 417.42,274.97 417.89,274.24 418.37,273.51 418.85,272.77 419.33,272.03 419.81,271.29 420.29,270.54 420.76,269.79 421.24,269.04 421.72,268.28 422.20,267.52 422.68,266.76 423.16,265.99 423.64,265.22 424.11,264.44 424.59,263.66 425.07,262.88 425.55,262.10 426.03,261.31 426.51,260.52 426.99,259.72 427.46,258.92 427.94,258.12 428.42,257.31 428.90,256.50 429.38,255.69 429.86,254.87 430.33,254.05 430.81,253.23 431.29,252.40 431.77,251.57 432.25,250.73 432.73,249.89 433.21,249.05 433.68,248.21 434.16,247.36 434.64,246.50 435.12,245.65 435.60,244.79 436.08,243.93 436.56,243.06 437.03,242.19 437.51,241.32 437.99,240.44 438.47,239.56 438.95,238.67 439.43,237.79 439.91,236.90 440.38,236.00 440.86,235.10 441.34,234.20 441.82,233.30 442.30,232.39 442.78,231.47 443.25,230.56 443.73,229.64 444.21,228.72 444.69,227.79 445.17,226.86 445.65,225.93" fill="none" stroke="#2a2aa8" stroke-width="1.2" stroke-linejoin="round"/>
<circle cx="293.50" cy="349.30" r="2.0" fill="#333"/>
<circle cx="328.20" cy="346.60" r="2.0" fill="#333"/>
<circle cx="345.60" cy="339.80" r="2.0" fill="#333"/>
<circle cx="363.80" cy="326.80" r="2.0" fill="#333"/>
<circle cx="382.40" cy="322.00" r="2.0" fill="#333"/>
<circle cx="401.90" cy="301.20" r="2.0" fill="#333"/>
<circle cx="421.40" cy="281.20" r="2.0" fill="#333"/>
<circle cx="441.60" cy="232.90" r="2.0" fill="#333"/>
<rect x="282.00" y="225.30" width="167.70" height="127.10" fill="none" stroke="#747474" stroke-width="1"/>
<line x1="282.00" y1="352.40" x2="282.00" y2="354.40" stroke="#747474" stroke-width="1" />
<line x1="297.95" y1="352.40" x2="297.95" y2="353.60" stroke="#747474" stroke-width="1" />
<line x1="313.90" y1="352.40" x2="313.90" y2="354.40" stroke="#747474" stroke-width="1" />
<line x1="329.85" y1="352.40" x2="329.85" y2="353.60" stroke="#747474" stroke-width="1" />
<line x1="345.80" y1="352.40" x2="345.80" y2="354.40" stroke="#747474" stroke-width="1" />
<line x1="361.75" y1="352.40" x2="361.75" y2="353.60" stroke="#747474" stroke-width="1" />
<line x1="377.70" y1="352.40" x2="377.70" y2="354.40" stroke="#747474" stroke-width="1" />
<line x1="393.65" y1="352.40" x2="393.65" y2="353.60" stroke="#747474" stroke-width="1" />
<line x1="409.60" y1="352.40" x2="409.60" y2="354.40" stroke="#747474" stroke-width="1" />
<line x1="425.55" y1="352.40" x2="425.55" y2="353.60" stroke="#747474" stroke-width="1" />
<line x1="441.50" y1="352.40" x2="441.50" y2="354.40" stroke="#747474" stroke-width="1" />
<line x1="282.00" y1="352.40" x2="280.00" y2="352.40" stroke="#747474" stroke-width="1" />
<line x1="282.00" y1="332.48" x2="280.80" y2="332.48" stroke="#747474" stroke-width="1" />
<line x1="282.00" y1="312.57" x2="280.00" y2="312.57" stroke="#747474" stroke-width="1" />
<line x1="282.00" y1="292.65" x2="280.80" y2="292.65" stroke="#747474" stroke-width="1" />
<line x1="282.00" y1="272.73" x2="280.00" y2="272.73" stroke="#747474" stroke-width="1" />
<line x1="282.00" y1="252.82" x2="280.80" y2="252.82" stroke="#747474" stroke-width="1" />
<line x1="282.00" y1="232.90" x2="280.00" y2="232.90" stroke="#747474" stroke-width="1" />
<text transform="translate(282.00 361.99) scale(0.8929 1)" font-size="7.95" text-anchor="middle" fill="#2a2a2a" >-10</text>
<text transform="translate(313.90 361.99) scale(0.8929 1)" font-size="7.95" text-anchor="middle" fill="#2a2a2a" >-8</text>
<text transform="translate(345.80 361.99) scale(0.8929 1)" font-size="7.95" text-anchor="middle" fill="#2a2a2a" >-6</text>
<text transform="translate(377.70 361.99) scale(0.8929 1)" font-size="7.95" text-anchor="middle" fill="#2a2a2a" >-4</text>
<text transform="translate(409.60 361.99) scale(0.8929 1)" font-size="7.95" text-anchor="middle" fill="#2a2a2a" >-2</text>
<text transform="translate(441.50 361.99) scale(0.8929 1)" font-size="7.95" text-anchor="middle" fill="#2a2a2a" >0</text>
<text transform="translate(278.20 354.79) scale(0.8929 1)" font-size="7.95" text-anchor="end" fill="#2a2a2a" >0.25</text>
<text transform="translate(278.20 314.95) scale(0.8929 1)" font-size="7.95" text-anchor="end" fill="#2a2a2a" >0.50</text>
<text transform="translate(278.20 275.12) scale(0.8929 1)" font-size="7.95" text-anchor="end" fill="#2a2a2a" >0.75</text>
<text transform="translate(278.20 235.29) scale(0.8929 1)" font-size="7.95" text-anchor="end" fill="#2a2a2a" >1.00</text>
<text transform="translate(365.70 374.85) scale(0.8929 1)" font-size="9.30" text-anchor="middle" fill="#2a2a2a">Permittivity Difference (ε<tspan font-size="5.94" dy="1.8">0</tspan><tspan dy="-1.8">)</tspan></text>
<text transform="translate(260.62 282.90) rotate(-90) scale(0.8929 1)" font-size="8.51" text-anchor="middle" fill="#2a2a2a">Normalized Frequency Shift</text>
<line x1="520.40" y1="343.20" x2="678.20" y2="257.00" stroke="#3aa040" stroke-width="1.2" />
<line x1="540.13" y1="327.76" x2="540.13" y2="337.52" stroke="#8a8a8a" stroke-width="0.9" />
<line x1="538.53" y1="327.76" x2="541.73" y2="327.76" stroke="#8a8a8a" stroke-width="0.9" />
<line x1="538.53" y1="337.52" x2="541.73" y2="337.52" stroke="#8a8a8a" stroke-width="0.9" />
<circle cx="540.13" cy="332.64" r="2.0" fill="#333"/>
<line x1="559.86" y1="311.07" x2="559.86" y2="325.45" stroke="#8a8a8a" stroke-width="0.9" />
<line x1="558.26" y1="311.07" x2="561.46" y2="311.07" stroke="#8a8a8a" stroke-width="0.9" />
<line x1="558.26" y1="325.45" x2="561.46" y2="325.45" stroke="#8a8a8a" stroke-width="0.9" />
<circle cx="559.86" cy="318.26" r="2.0" fill="#333"/>
<line x1="579.59" y1="303.20" x2="579.59" y2="319.12" stroke="#8a8a8a" stroke-width="0.9" />
<line x1="577.99" y1="303.20" x2="581.19" y2="303.20" stroke="#8a8a8a" stroke-width="0.9" />
<line x1="577.99" y1="319.12" x2="581.19" y2="319.12" stroke="#8a8a8a" stroke-width="0.9" />
<circle cx="579.59" cy="311.16" r="2.0" fill="#333"/>
<line x1="599.32" y1="285.90" x2="599.32" y2="316.72" stroke="#8a8a8a" stroke-width="0.9" />
<line x1="597.72" y1="285.90" x2="600.92" y2="285.90" stroke="#8a8a8a" stroke-width="0.9" />
<line x1="597.72" y1="316.72" x2="600.92" y2="316.72" stroke="#8a8a8a" stroke-width="0.9" />
<circle cx="599.32" cy="301.31" r="2.0" fill="#333"/>
<line x1="619.05" y1="272.12" x2="619.05" y2="306.36" stroke="#8a8a8a" stroke-width="0.9" />
<line x1="617.45" y1="272.12" x2="620.65" y2="272.12" stroke="#8a8a8a" stroke-width="0.9" />
<line x1="617.45" y1="306.36" x2="620.65" y2="306.36" stroke="#8a8a8a" stroke-width="0.9" />
<circle cx="619.05" cy="289.24" r="2.0" fill="#333"/>
<line x1="638.78" y1="253.38" x2="638.78" y2="295.49" stroke="#8a8a8a" stroke-width="0.9" />
<line x1="637.18" y1="253.38" x2="640.38" y2="253.38" stroke="#8a8a8a" stroke-width="0.9" />
<line x1="637.18" y1="295.49" x2="640.38" y2="295.49" stroke="#8a8a8a" stroke-width="0.9" />
<circle cx="638.78" cy="274.43" r="2.0" fill="#333"/>
<line x1="658.51" y1="250.38" x2="658.51" y2="292.50" stroke="#8a8a8a" stroke-width="0.9" />
<line x1="656.91" y1="250.38" x2="660.11" y2="250.38" stroke="#8a8a8a" stroke-width="0.9" />
<line x1="656.91" y1="292.50" x2="660.11" y2="292.50" stroke="#8a8a8a" stroke-width="0.9" />
<circle cx="658.51" cy="271.44" r="2.0" fill="#333"/>
<rect x="520.40" y="245.40" width="157.80" height="106.30" fill="none" stroke="#747474" stroke-width="1"/>
<line x1="520.40" y1="351.70" x2="520.40" y2="353.70" stroke="#747474" stroke-width="1" />
<line x1="520.40" y1="245.40" x2="520.40" y2="243.40" stroke="#747474" stroke-width="1" />
<line x1="540.13" y1="351.70" x2="540.13" y2="352.90" stroke="#747474" stroke-width="1" />
<line x1="540.13" y1="245.40" x2="540.13" y2="244.20" stroke="#747474" stroke-width="1" />
<line x1="559.86" y1="351.70" x2="559.86" y2="353.70" stroke="#747474" stroke-width="1" />
<line x1="559.86" y1="245.40" x2="559.86" y2="243.40" stroke="#747474" stroke-width="1" />
<line x1="579.59" y1="351.70" x2="579.59" y2="352.90" stroke="#747474" stroke-width="1" />
<line x1="579.59" y1="245.40" x2="579.59" y2="244.20" stroke="#747474" stroke-width="1" />
<line x1="599.32" y1="351.70" x2="599.32" y2="353.70" stroke="#747474" stroke-width="1" />
<line x1="599.32" y1="245.40" x2="599.32" y2="243.40" stroke="#747474" stroke-width="1" />
<line x1="619.05" y1="351.70" x2="619.05" y2="352.90" stroke="#747474" stroke-width="1" />
<line x1="619.05" y1="245.40" x2="619.05" y2="244.20" stroke="#747474" stroke-width="1" />
<line x1="638.78" y1="351.70" x2="638.78" y2="353.70" stroke="#747474" stroke-width="1" />
<line x1="638.78" y1="245.40" x2="638.78" y2="243.40" stroke="#747474" stroke-width="1" />
<line x1="658.51" y1="351.70" x2="658.51" y2="352.90" stroke="#747474" stroke-width="1" />
<line x1="658.51" y1="245.40" x2="658.51" y2="244.20" stroke="#747474" stroke-width="1" />
<line x1="678.24" y1="351.70" x2="678.24" y2="353.70" stroke="#747474" stroke-width="1" />
<line x1="678.24" y1="245.40" x2="678.24" y2="243.40" stroke="#747474" stroke-width="1" />
<line x1="520.40" y1="343.20" x2="518.40" y2="343.20" stroke="#747474" stroke-width="1" />
<line x1="520.40" y1="321.97" x2="519.20" y2="321.97" stroke="#747474" stroke-width="1" />
<line x1="520.40" y1="300.75" x2="518.40" y2="300.75" stroke="#747474" stroke-width="1" />
<line x1="520.40" y1="279.52" x2="519.20" y2="279.52" stroke="#747474" stroke-width="1" />
<line x1="520.40" y1="258.30" x2="518.40" y2="258.30" stroke="#747474" stroke-width="1" />
<text transform="translate(520.40 361.68) scale(0.8929 1)" font-size="7.95" text-anchor="middle" fill="#2a2a2a" >0.0</text>
<text transform="translate(559.86 361.68) scale(0.8929 1)" font-size="7.95" text-anchor="middle" fill="#2a2a2a" >0.2</text>
<text transform="translate(599.32 361.68) scale(0.8929 1)" font-size="7.95" text-anchor="middle" fill="#2a2a2a" >0.4</text>
<text transform="translate(638.78 361.68) scale(0.8929 1)" font-size="7.95" text-anchor="middle" fill="#2a2a2a" >0.6</text>
<text transform="translate(678.24 361.68) scale(0.8929 1)" font-size="7.95" text-anchor="middle" fill="#2a2a2a" >0.8</text>
<text transform="translate(520.40 240.79) scale(0.8929 1)" font-size="7.95" text-anchor="middle" fill="#2a2a2a" >0.0</text>
<text transform="translate(559.86 240.79) scale(0.8929 1)" font-size="7.95" text-anchor="middle" fill="#2a2a2a" >1.6</text>
<text transform="translate(599.32 240.79) scale(0.8929 1)" font-size="7.95" text-anchor="middle" fill="#2a2a2a" >3.2</text>
<text transform="translate(638.78 240.79) scale(0.8929 1)" font-size="7.95" text-anchor="middle" fill="#2a2a2a" >4.8</text>
<text transform="translate(678.24 240.79) scale(0.8929 1)" font-size="7.95" text-anchor="middle" fill="#2a2a2a" >6.4</text>
<text transform="translate(516.00 344.99) scale(0.8929 1)" font-size="7.95" text-anchor="end" fill="#2a2a2a">R<tspan font-size="5.82" dy="2.3">s</tspan></text>
<text transform="translate(516.00 302.54) scale(0.8929 1)" font-size="7.95" text-anchor="end" fill="#2a2a2a">1.5R<tspan font-size="5.82" dy="2.3">s</tspan></text>
<text transform="translate(516.00 260.08) scale(0.8929 1)" font-size="7.95" text-anchor="end" fill="#2a2a2a">2R<tspan font-size="5.82" dy="2.3">s</tspan></text>
<text transform="translate(599.40 373.78) scale(0.8929 1)" font-size="9.07" text-anchor="middle" fill="#2a2a2a" >Concentration (mol/L)</text>
<text transform="translate(599.00 230.08) scale(0.8929 1)" font-size="9.07" text-anchor="middle" fill="#2a2a2a" >Electrical Cond. (S/m)</text>
<text transform="translate(494.24 297.80) rotate(-90) scale(0.8929 1)" font-size="8.96" text-anchor="middle" fill="#2a2a2a">Circuit Resistance</text>
<text x="0" y="0" font-size="13.6" font-weight="bold" letter-spacing="0.9" fill="#111" style="stroke:#111;stroke-width:0.45px" transform="translate(4.6 13.9) scale(0.87 1)">a)</text>
<text x="0" y="0" font-size="13.6" font-weight="bold" letter-spacing="0.9" fill="#111" style="stroke:#111;stroke-width:0.45px" transform="translate(230.2 18.9) scale(0.87 1)">b)</text>
<text x="0" y="0" font-size="13.6" font-weight="bold" letter-spacing="0.9" fill="#111" style="stroke:#111;stroke-width:0.45px" transform="translate(455.2 18.9) scale(0.87 1)">c)</text>
<text x="0" y="0" font-size="13.6" font-weight="bold" letter-spacing="0.9" fill="#111" style="stroke:#111;stroke-width:0.45px" transform="translate(4.8 204.8) scale(0.87 1)">d)</text>
<text x="0" y="0" font-size="13.6" font-weight="bold" letter-spacing="0.9" fill="#111" style="stroke:#111;stroke-width:0.45px" transform="translate(230.0 204.8) scale(0.87 1)">e)</text>
<text x="0" y="0" font-size="13.6" font-weight="bold" letter-spacing="0.9" fill="#111" style="stroke:#111;stroke-width:0.45px" transform="translate(456.9 204.8) scale(0.87 1)">f)</text>
</svg>
</body></html>
